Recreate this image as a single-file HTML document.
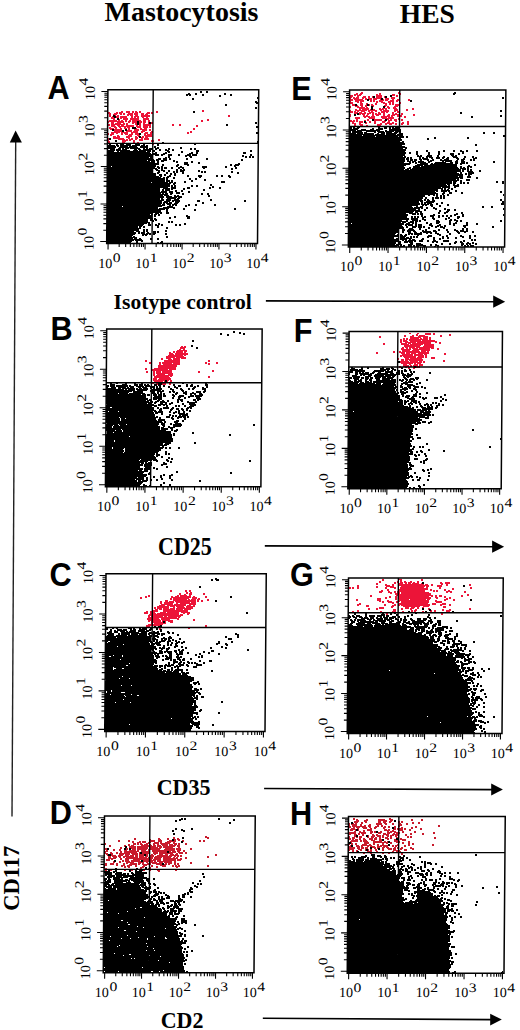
<!DOCTYPE html>
<html><head><meta charset="utf-8"><style>
html,body{margin:0;padding:0;background:#fff;}
svg{display:block;}
text{font-family:"Liberation Serif",serif;fill:#000;}
.lt{font-family:"Liberation Sans",sans-serif;font-weight:bold;font-size:33px;}
</style></head><body>
<svg width="520" height="1030" viewBox="0 0 520 1030">
<rect width="520" height="1030" fill="#fff"/>
<path d="M361 92.5h2m35 0h2m-44 1h2m2 0h3m16 0h2m17 0h3m-47 1h4m1 0h3m14 0h2m1 0h2m11 0h3m4 0h2m-52 1h4m1 0h2m1 0h4m15 0h6m10 0h3m1 0h2m-49 1h4m4 0h2m4 0h3m2 0h2m2 0h1m3 0h6m2 0h1m11 0h2m-48 1h2m1 0h2m1 0h3m3 0h4m2 0h2m2 0h1m3 0h6m2 0h1m6 0h4m-46 1h2m2 0h6m3 0h2m1 0h2m1 0h4m1 0h8m4 0h4m2 0h4m-46 1h4m1 0h9m2 0h2m2 0h3m1 0h4m3 0h1m2 0h1m1 0h4m3 0h2m3 0h2m9 0h2m-61 1h4m2 0h9m6 0h2m1 0h2m4 0h5m1 0h3m2 0h4m2 0h3m9 0h2m-61 1h2m4 0h4m1 0h4m6 0h2m1 0h2m1 0h2m1 0h4m5 0h6m2 0h2m-49 1h4m4 0h2m1 0h2m14 0h2m3 0h4m3 0h3m1 0h2m5 0h2m-52 1h4m7 0h3m3 0h2m7 0h2m6 0h4m2 0h2m1 0h2m5 0h2m-49 1h3m5 0h3m3 0h1m2 0h1m1 0h2m2 0h2m8 0h2m2 0h2m1 0h2m1 0h4m-47 1h3m2 0h1m2 0h3m2 0h2m2 0h1m1 0h3m10 0h3m8 0h4m-50 1h2m4 0h4m2 0h2m2 0h2m6 0h1m11 0h1m1 0h2m5 0h4m-49 1h2m6 0h8m1 0h2m19 0h3m3 0h3m-37 1h10m10 0h2m1 0h5m1 0h2m3 0h4m15 0h2m-59 1h2m2 0h2m1 0h7m1 0h1m2 0h2m4 0h5m1 0h2m7 0h4m8 0h2m4 0h2m-212 1h2m145 0h2m4 0h12m1 0h9m3 0h2m1 0h6m5 0h4m8 0h2m-287 1h2m3 0h4m2 0h2m1 0h2m2 0h2m15 0h2m44 0h2m145 0h4m1 0h2m1 0h2m2 0h4m3 0h2m1 0h2m2 0h2m4 0h8m5 0h2m1 0h2m-291 1h2m6 0h2m1 0h4m3 0h4m2 0h2m1 0h3m1 0h2m6 0h3m1 0h2m3 0h2m192 0h3m1 0h4m1 0h3m2 0h2m3 0h5m4 0h2m1 0h4m1 0h2m4 0h2m3 0h2m-291 1h3m3 0h4m1 0h3m1 0h2m3 0h5m1 0h4m3 0h3m2 0h4m1 0h2m201 0h3m2 0h7m1 0h4m1 0h2m1 0h2m1 0h3m2 0h2m7 0h2m1 0h2m4 0h2m-294 1h2m2 0h4m3 0h2m1 0h2m2 0h6m1 0h4m3 0h3m1 0h3m202 0h1m8 0h2m1 0h3m2 0h2m3 0h2m1 0h6m2 0h2m3 0h2m2 0h8m1 0h2m10 0h2m-306 1h2m4 0h1m1 0h2m8 0h2m1 0h3m2 0h3m3 0h9m78 0h2m120 0h1m12 0h2m1 0h2m4 0h2m2 0h3m4 0h2m2 0h3m1 0h4m2 0h5m11 0h2m-306 1h2m1 0h1m3 0h3m1 0h7m4 0h2m1 0h5m2 0h9m78 0h2m119 0h2m12 0h7m1 0h4m6 0h9m1 0h2m4 0h2m1 0h2m2 0h2m-299 1h1m3 0h3m2 0h3m1 0h7m4 0h2m1 0h2m1 0h2m3 0h2m2 0h2m201 0h1m5 0h5m4 0h2m2 0h7m6 0h6m1 0h6m10 0h2m-299 1h1m3 0h4m5 0h2m1 0h5m2 0h9m4 0h6m206 0h5m9 0h6m7 0h12m4 0h2m-287 1h2m4 0h1m3 0h5m2 0h9m4 0h6m58 0h2m147 0h2m9 0h2m5 0h8m5 0h2m1 0h2m2 0h3m1 0h2m1 0h2m-294 1h8m1 0h2m1 0h2m2 0h2m2 0h2m1 0h9m2 0h3m2 0h2m51 0h2m4 0h2m141 0h2m1 0h2m1 0h2m6 0h2m1 0h2m5 0h8m2 0h1m3 0h4m2 0h3m4 0h2m-296 1h17m1 0h2m1 0h3m1 0h5m2 0h3m1 0h3m2 0h2m51 0h2m147 0h5m1 0h2m1 0h4m6 0h2m3 0h2m6 0h4m2 0h2m5 0h2m10 0h2m-302 1h2m2 0h3m3 0h7m4 0h2m2 0h5m2 0h3m1 0h3m2 0h1m2 0h2m199 0h2m5 0h4m3 0h1m2 0h2m3 0h2m6 0h3m2 0h3m2 0h2m8 0h2m3 0h2m-298 1h3m1 0h6m2 0h2m1 0h2m4 0h2m1 0h2m2 0h2m2 0h2m3 0h1m2 0h2m196 0h1m2 0h4m3 0h2m4 0h2m7 0h2m4 0h2m3 0h9m1 0h2m4 0h3m3 0h2m-302 1h3m1 0h14m1 0h2m7 0h2m2 0h2m2 0h8m21 0h2m5 0h2m168 0h1m4 0h2m3 0h4m14 0h5m3 0h2m2 0h3m3 0h2m4 0h2m4 0h2m-302 1h3m1 0h4m2 0h3m1 0h3m2 0h8m2 0h2m1 0h2m2 0h8m21 0h2m5 0h2m15 0h2m156 0h2m4 0h3m3 0h2m9 0h4m-270 1h5m2 0h16m2 0h5m2 0h5m1 0h2m45 0h2m168 0h2m11 0h2m-272 1h2m3 0h3m2 0h2m3 0h2m1 0h3m7 0h4m2 0h5m1 0h2m-42 1h5m1 0h2m3 0h2m2 0h3m1 0h2m6 0h1m3 0h2m2 0h3m46 0h2m-88 1h1m2 0h2m2 0h8m6 0h2m4 0h5m1 0h7m2 0h2m42 0h2m-88 1h1m6 0h8m5 0h5m2 0h5m3 0h5m2 0h2m-37 1h8m4 0h6m1 0h5m3 0h4m6 0h2m37 0h2m-81 1h9m1 0h7m3 0h7m3 0h2m2 0h3m2 0h3m34 0h2m1 0h2m-85 1h2m2 0h3m2 0h2m3 0h2m1 0h4m3 0h2m2 0h4m5 0h4m2 0h2m35 0h2m-82 1h2m1 0h4m7 0h2m2 0h3m1 0h4m2 0h4m5 0h2m1 0h5m-42 1h2m5 0h2m9 0h4m5 0h3m4 0h8m-39 1h3m1 0h3m6 0h6m3 0h2m1 0h1m3 0h2m1 0h7m-39 1h7m6 0h4m5 0h3m3 0h3m1 0h3m-41 1h2m4 0h11m4 0h2m1 0h2m2 0h3m3 0h2m1 0h5m-42 1h2m9 0h7m1 0h2m1 0h4m2 0h2m2 0h4m1 0h5m9 0h2m-53 1h2m13 0h6m1 0h2m2 0h2m4 0h4m8 0h3m4 0h2m-53 1h3m12 0h4m7 0h2m16 0h3m-46 1h2m12 0h3m8 0h2m2 0h2m-17 1h2m5 0h2m6 0h2m13 0h2m-2 1h2m255 189h2m6 0h2m6 0h6m2 0h2m-19 1h2m7 0h6m2 0h2m14 0h2m-47 1h2m6 0h2m2 0h2m1 0h6m15 0h2m7 0h2m-72 1h2m23 0h2m4 0h4m4 0h10m12 0h2m-63 1h2m29 0h11m2 0h5m1 0h2m-28 1h2m1 0h2m2 0h9m1 0h2m1 0h5m1 0h2m-31 1h2m1 0h2m1 0h2m1 0h19m1 0h2m-31 1h2m1 0h4m2 0h12m1 0h13m-35 1h2m1 0h5m2 0h27m-37 1h2m3 0h11m1 0h14m4 0h2m2 0h2m-58 1h2m16 0h6m1 0h3m1 0h19m8 0h2m-58 1h2m16 0h8m1 0h13m1 0h10m-30 1h17m3 0h10m-253 1h2m1 0h2m218 0h16m3 0h11m-254 1h6m216 0h2m1 0h3m1 0h6m1 0h18m-254 1h5m216 0h3m2 0h2m1 0h2m1 0h6m1 0h11m1 0h3m3 0h2m-260 1h2m2 0h2m216 0h10m2 0h17m7 0h2m-262 1h10m215 0h8m2 0h7m2 0h9m-257 1h2m1 0h7m1 0h3m206 0h2m4 0h2m1 0h18m1 0h5m1 0h2m-260 1h2m2 0h2m1 0h7m1 0h2m190 0h2m15 0h2m4 0h6m1 0h23m-260 1h4m2 0h13m188 0h2m23 0h4m1 0h4m1 0h5m2 0h11m15 0h2m-277 1h5m1 0h13m214 0h11m1 0h9m1 0h3m17 0h2m-278 1h15m1 0h2m214 0h13m1 0h10m1 0h2m-261 1h18m216 0h2m1 0h13m2 0h6m1 0h2m-261 1h9m1 0h10m218 0h12m1 0h7m1 0h2m4 0h4m-274 1h2m3 0h5m2 0h7m1 0h5m211 0h2m6 0h4m1 0h12m9 0h4m-274 1h2m5 0h4m1 0h7m217 0h2m2 0h3m1 0h18m-278 1h2m17 0h16m28 0h2m191 0h3m1 0h3m1 0h14m20 0h2m-300 1h2m17 0h16m28 0h2m190 0h9m1 0h8m1 0h3m1 0h2m18 0h2m-296 1h2m8 0h2m1 0h18m25 0h2m9 0h2m182 0h22m1 0h2m-276 1h2m8 0h2m1 0h10m1 0h7m25 0h2m1 0h2m6 0h2m183 0h12m1 0h2m1 0h4m-262 1h2m2 0h17m28 0h2m193 0h4m2 0h2m3 0h4m1 0h4m-265 1h19m226 0h6m1 0h2m1 0h5m1 0h4m-265 1h19m222 0h2m2 0h6m1 0h2m1 0h1m2 0h4m-262 1h18m223 0h2m4 0h2m1 0h2m3 0h1m2 0h4m-275 1h2m7 0h22m232 0h2m3 0h2m-270 1h2m5 0h16m1 0h7m-24 1h20m40 0h2m-68 1h2m5 0h2m1 0h5m1 0h10m26 0h2m12 0h2m-68 1h2m5 0h2m1 0h5m1 0h10m26 0h2m-47 1h2m1 0h17m-20 1h2m2 0h8m3 0h5m-20 1h2m1 0h17m-19 1h15m1 0h2m36 0h2m-56 1h16m38 0h2m-57 1h4m2 0h12m-18 1h4m1 0h13m-18 1h12m2 0h2m1 0h2m-18 1h9m1 0h1m2 0h1m2 0h2m-21 1h7m1 0h4m2 0h3m1 0h2m-20 1h3m2 0h2m4 0h4m3 0h2m-14 1h1m4 0h4m3 0h2m211 195h2m14 0h4m19 0h2m-41 1h2m16 0h2m19 0h2m-44 1h2m16 0h2m1 0h2m2 0h2m4 0h2m5 0h2m-40 1h2m13 0h2m1 0h2m1 0h3m1 0h3m1 0h4m1 0h2m2 0h2m21 0h2m3 0h5m-74 1h2m16 0h2m2 0h5m2 0h2m1 0h3m1 0h7m2 0h1m18 0h3m2 0h5m-74 1h2m7 0h2m5 0h2m4 0h26m1 0h3m3 0h2m8 0h2m3 0h2m21 0h2m-114 1h2m26 0h5m2 0h2m4 0h31m2 0h2m4 0h5m4 0h2m21 0h2m-123 1h1m8 0h2m17 0h2m8 0h8m7 0h24m1 0h3m8 0h5m-94 1h3m1 0h2m3 0h2m17 0h2m7 0h2m3 0h6m4 0h24m2 0h2m11 0h2m29 0h2m-123 1h2m1 0h2m3 0h2m26 0h2m7 0h2m4 0h28m11 0h2m11 0h2m16 0h2m-85 1h2m10 0h29m2 0h2m12 0h2m6 0h2m-284 1h2m13 0h2m2 0h2m190 0h2m4 0h2m9 0h27m5 0h2m1 0h2m1 0h2m6 0h2m2 0h2m-280 1h2m13 0h2m2 0h2m188 0h4m5 0h2m4 0h2m1 0h28m8 0h2m1 0h2m8 0h6m12 0h2m-280 1h2m2 0h2m187 0h3m6 0h4m2 0h2m1 0h3m1 0h28m17 0h2m2 0h2m12 0h2m-287 1h2m5 0h2m1 0h3m11 0h2m185 0h2m3 0h5m1 0h30m-252 1h2m3 0h2m3 0h3m11 0h2m143 0h1m46 0h36m36 0h2m-321 1h2m27 0h2m1 0h7m2 0h2m157 0h1m21 0h2m24 0h2m1 0h34m2 0h2m2 0h3m19 0h2m4 0h2m-324 1h2m1 0h2m21 0h2m2 0h4m1 0h11m2 0h2m10 0h2m163 0h2m17 0h2m4 0h2m1 0h31m2 0h2m2 0h2m2 0h3m2 0h2m15 0h2m-323 1h2m3 0h2m24 0h20m1 0h5m8 0h2m178 0h2m2 0h2m4 0h2m1 0h33m4 0h3m6 0h2m3 0h2m-311 1h2m28 0h2m1 0h16m3 0h5m1 0h2m177 0h4m4 0h2m8 0h2m1 0h33m5 0h2m8 0h2m1 0h2m-281 1h2m1 0h14m1 0h2m1 0h5m1 0h3m7 0h2m147 0h2m19 0h4m14 0h2m2 0h10m1 0h16m1 0h3m14 0h4m5 0h2m-290 1h3m5 0h23m1 0h2m2 0h2m4 0h2m147 0h2m19 0h4m6 0h2m9 0h31m6 0h2m7 0h2m7 0h2m-295 1h2m3 0h3m1 0h5m1 0h21m1 0h2m2 0h2m176 0h2m1 0h2m3 0h5m4 0h4m1 0h28m6 0h7m-282 1h2m2 0h10m2 0h14m1 0h5m186 0h2m4 0h6m2 0h2m3 0h28m7 0h6m-282 1h2m2 0h9m3 0h2m2 0h16m163 0h2m31 0h2m5 0h29m4 0h4m6 0h4m-285 1h12m1 0h12m3 0h7m161 0h4m23 0h2m8 0h2m2 0h32m2 0h4m4 0h6m3 0h2m-292 1h6m2 0h19m1 0h4m2 0h2m162 0h2m7 0h3m15 0h2m6 0h4m2 0h2m1 0h29m10 0h2m7 0h2m-294 1h12m1 0h5m1 0h8m2 0h9m171 0h3m22 0h3m9 0h17m3 0h6m14 0h3m-292 1h2m1 0h12m4 0h2m2 0h8m1 0h7m186 0h5m7 0h2m12 0h4m2 0h4m2 0h2m3 0h2m19 0h3m-292 1h2m1 0h5m1 0h6m1 0h5m1 0h17m175 0h2m6 0h2m1 0h5m17 0h2m2 0h4m1 0h4m3 0h2m9 0h2m39 0h2m-316 1h3m1 0h3m1 0h12m1 0h7m1 0h7m177 0h2m6 0h2m15 0h3m5 0h2m7 0h2m3 0h2m11 0h1m13 0h2m5 0h2m18 0h2m-319 1h6m5 0h25m169 0h2m34 0h3m15 0h2m1 0h3m14 0h1m2 0h2m6 0h2m2 0h5m-305 1h2m2 0h8m5 0h25m164 0h2m3 0h2m21 0h2m10 0h4m6 0h2m7 0h2m1 0h2m6 0h2m6 0h2m2 0h2m10 0h4m-306 1h4m2 0h5m5 0h6m1 0h12m2 0h9m162 0h2m11 0h2m13 0h2m10 0h2m8 0h2m18 0h2m6 0h2m15 0h2m-305 1h4m2 0h6m1 0h22m4 0h2m2 0h3m196 0h2m53 0h2m-294 1h30m1 0h3m4 0h2m197 0h2m53 0h2m-295 1h35m-35 1h2m1 0h12m1 0h3m1 0h13m-33 1h29m1 0h2m-33 1h12m2 0h18m-32 1h13m1 0h9m7 0h2m14 0h2m-47 1h13m1 0h11m20 0h2m-47 1h2m1 0h10m1 0h1m2 0h1m2 0h5m-22 1h12m2 0h1m4 0h3m-22 1h2m1 0h12m-18 1h15m-17 1h14m45 0h2m-61 1h4m55 0h2m-59 1h2m38 0h2m-31 1h2m27 0h2m-31 1h1" stroke="#ec1438" stroke-width="1" fill="none" shape-rendering="crispEdges"/>
<path d="M353 818.5h2m34 0h2m-38 1h2m1 0h2m8 0h2m10 0h7m4 0h4m18 0h2m8 0h2m-67 1h3m5 0h4m10 0h9m3 0h3m18 0h2m8 0h2m-75 1h1m5 0h5m5 0h3m11 0h3m2 0h4m2 0h3m6 0h2m1 0h2m-55 1h1m5 0h4m3 0h2m2 0h2m11 0h3m2 0h3m3 0h2m7 0h2m1 0h2m9 0h2m4 0h2m-72 1h2m3 0h1m1 0h2m4 0h2m13 0h6m2 0h3m5 0h2m5 0h2m5 0h2m4 0h2m4 0h2m-72 1h2m1 0h6m3 0h2m7 0h2m5 0h6m3 0h2m5 0h2m5 0h3m4 0h2m-60 1h2m2 0h5m3 0h2m2 0h2m2 0h3m6 0h2m2 0h2m15 0h4m36 0h2m-92 1h3m1 0h14m2 0h3m4 0h4m2 0h2m1 0h2m2 0h2m4 0h2m2 0h2m15 0h2m21 0h2m-91 1h2m2 0h2m1 0h4m2 0h5m2 0h2m3 0h3m6 0h3m2 0h2m4 0h2m5 0h2m8 0h2m2 0h2m-66 1h4m2 0h2m4 0h4m3 0h2m2 0h2m7 0h2m9 0h2m1 0h6m1 0h2m5 0h2m7 0h2m-72 1h6m2 0h1m8 0h5m12 0h3m1 0h2m3 0h3m1 0h6m1 0h2m3 0h2m9 0h2m-72 1h3m2 0h1m2 0h1m4 0h2m2 0h5m12 0h6m2 0h2m5 0h4m6 0h2m-57 1h2m3 0h2m2 0h2m5 0h3m1 0h2m4 0h2m5 0h2m1 0h6m6 0h2m10 0h2m-67 1h7m3 0h7m4 0h3m1 0h2m2 0h4m5 0h5m2 0h6m2 0h2m10 0h2m17 0h2m-86 1h7m2 0h2m1 0h5m4 0h2m6 0h3m2 0h3m1 0h3m3 0h2m1 0h4m10 0h2m10 0h2m9 0h2m-86 1h2m3 0h3m1 0h2m2 0h2m8 0h2m2 0h2m5 0h6m3 0h6m7 0h2m3 0h2m10 0h2m-70 1h2m6 0h2m4 0h1m3 0h3m1 0h5m1 0h2m2 0h3m1 0h4m1 0h3m7 0h2m-202 1h2m141 0h2m4 0h2m3 0h3m6 0h1m2 0h4m2 0h4m1 0h2m3 0h2m1 0h2m3 0h2m10 0h2m1 0h2m-239 1h2m30 0h4m139 0h2m2 0h3m1 0h2m1 0h3m5 0h2m2 0h3m1 0h2m2 0h2m1 0h2m1 0h3m2 0h2m4 0h2m9 0h2m1 0h2m22 0h2m-302 1h2m22 0h2m7 0h2m4 0h2m2 0h2m28 0h2m139 0h3m1 0h3m4 0h2m2 0h2m4 0h4m1 0h3m2 0h2m4 0h4m1 0h2m8 0h2m32 0h2m-302 1h2m13 0h2m7 0h3m6 0h2m5 0h2m1 0h3m168 0h3m1 0h2m1 0h3m1 0h2m2 0h3m3 0h4m1 0h3m2 0h3m5 0h2m5 0h2m4 0h6m-288 1h2m8 0h2m19 0h6m3 0h4m7 0h3m2 0h2m2 0h2m2 0h2m15 0h2m2 0h2m146 0h7m2 0h2m1 0h4m4 0h4m4 0h3m12 0h4m4 0h4m-288 1h2m8 0h2m2 0h2m5 0h2m1 0h4m3 0h6m3 0h4m5 0h9m7 0h1m15 0h2m2 0h2m145 0h8m2 0h2m1 0h5m5 0h9m2 0h2m1 0h1m6 0h6m8 0h2m-278 1h2m3 0h4m1 0h4m2 0h3m3 0h5m1 0h2m3 0h6m2 0h2m173 0h1m2 0h1m12 0h5m4 0h15m2 0h2m4 0h4m2 0h2m4 0h2m-306 1h2m27 0h3m1 0h2m1 0h2m4 0h4m3 0h6m1 0h10m3 0h4m1 0h2m5 0h2m161 0h1m2 0h2m2 0h2m7 0h5m4 0h2m7 0h2m2 0h2m2 0h2m10 0h2m4 0h2m2 0h2m-310 1h2m22 0h2m3 0h3m1 0h2m1 0h3m1 0h4m1 0h2m2 0h2m2 0h2m2 0h7m1 0h4m1 0h3m1 0h2m5 0h2m161 0h2m1 0h2m2 0h2m5 0h5m2 0h2m2 0h2m2 0h2m3 0h2m13 0h2m9 0h2m2 0h2m18 0h2m-325 1h2m13 0h2m2 0h2m1 0h3m7 0h11m1 0h3m1 0h4m1 0h6m1 0h7m1 0h3m168 0h1m1 0h1m5 0h3m2 0h11m5 0h2m1 0h8m4 0h2m1 0h4m5 0h2m2 0h2m22 0h2m-325 1h2m13 0h1m4 0h7m1 0h19m1 0h5m1 0h12m2 0h3m168 0h3m5 0h4m1 0h2m4 0h2m1 0h5m2 0h5m1 0h5m4 0h2m1 0h2m7 0h2m-286 1h2m7 0h7m1 0h11m1 0h9m1 0h3m1 0h10m5 0h2m168 0h7m2 0h3m1 0h3m1 0h3m4 0h4m1 0h3m2 0h3m1 0h3m5 0h2m1 0h2m2 0h2m7 0h2m-307 1h2m13 0h2m4 0h2m3 0h5m1 0h11m1 0h12m4 0h10m1 0h5m9 0h2m156 0h7m2 0h3m1 0h3m1 0h3m6 0h2m1 0h1m4 0h2m3 0h5m1 0h3m1 0h2m1 0h3m7 0h4m-309 1h2m6 0h2m4 0h2m5 0h2m4 0h4m1 0h10m1 0h12m4 0h11m1 0h5m9 0h2m156 0h6m4 0h4m3 0h1m2 0h1m1 0h2m3 0h2m5 0h2m4 0h4m1 0h3m4 0h2m2 0h3m5 0h2m-308 1h2m5 0h2m4 0h2m3 0h3m2 0h7m1 0h2m2 0h5m2 0h2m2 0h23m2 0h4m2 0h2m163 0h2m2 0h2m2 0h2m2 0h2m3 0h1m2 0h1m1 0h2m3 0h2m5 0h2m9 0h7m4 0h3m-303 1h4m12 0h2m2 0h15m2 0h9m2 0h15m2 0h2m1 0h4m1 0h3m3 0h2m167 0h2m2 0h1m10 0h5m4 0h2m14 0h2m2 0h5m-297 1h2m4 0h2m4 0h2m2 0h2m2 0h13m2 0h1m2 0h7m4 0h5m1 0h8m2 0h7m2 0h5m2 0h2m165 0h2m9 0h2m2 0h5m4 0h2m4 0h2m4 0h2m2 0h2m5 0h2m-297 1h4m2 0h3m3 0h2m1 0h11m1 0h7m1 0h1m2 0h7m4 0h5m1 0h14m3 0h2m1 0h4m2 0h2m176 0h2m5 0h2m10 0h2m4 0h2m11 0h2m-297 1h2m3 0h2m6 0h5m1 0h5m2 0h6m1 0h5m2 0h2m3 0h2m1 0h2m3 0h4m2 0h3m2 0h4m1 0h3m37 0h2m184 0h2m-296 1h1m3 0h5m2 0h5m2 0h4m1 0h4m1 0h3m1 0h5m2 0h2m2 0h4m3 0h11m1 0h10m1 0h2m33 0h2m-109 1h3m1 0h5m1 0h3m2 0h11m1 0h3m1 0h5m1 0h3m2 0h4m1 0h17m2 0h2m1 0h2m1 0h2m25 0h2m-101 1h3m2 0h4m2 0h2m2 0h2m1 0h12m1 0h8m1 0h5m1 0h8m1 0h8m2 0h2m1 0h2m7 0h2m20 0h2m-101 1h8m4 0h2m3 0h28m1 0h7m2 0h15m2 0h2m3 0h2m-81 1h4m1 0h2m7 0h2m3 0h4m4 0h19m1 0h8m2 0h13m1 0h5m-76 1h4m12 0h2m1 0h4m2 0h9m3 0h13m1 0h4m2 0h13m1 0h4m-68 1h1m5 0h2m1 0h2m1 0h5m1 0h10m2 0h10m1 0h2m1 0h15m2 0h2m-63 1h2m4 0h2m5 0h8m4 0h6m2 0h2m2 0h7m2 0h4m1 0h8m2 0h2m14 0h2m-87 1h2m3 0h4m2 0h2m5 0h2m1 0h2m2 0h7m1 0h3m1 0h2m3 0h4m1 0h10m3 0h2m1 0h4m2 0h2m1 0h2m11 0h2m-87 1h2m3 0h4m2 0h2m5 0h2m4 0h8m1 0h2m2 0h9m5 0h6m2 0h3m1 0h2m4 0h2m1 0h2m-75 1h3m9 0h2m3 0h4m2 0h5m3 0h2m6 0h4m4 0h2m7 0h6m6 0h2m1 0h2m1 0h2m27 0h2m-105 1h1m16 0h2m1 0h2m1 0h3m5 0h2m5 0h3m6 0h2m3 0h2m4 0h4m6 0h2m1 0h5m27 0h2m-105 1h1m19 0h2m2 0h2m10 0h4m5 0h2m5 0h2m18 0h2m-73 1h2m33 0h2m6 0h3m-46 1h2m3 0h2m12 0h2m5 0h2m10 0h2m3 0h3m6 0h2m16 0h2m-72 1h2m3 0h2m12 0h2m5 0h2m10 0h2m4 0h2m6 0h3m15 0h2m-19 1h2" stroke="#c81a2c" stroke-width="1" fill="none" shape-rendering="crispEdges"/>
<path d="M200 91.5h2m4 0h2m-8 1h2m4 0h2m246 0h2m-268 1h2m5 0h2m27 0h2m227 0h3m-270 1h5m4 0h2m5 0h2m20 0h2m4 0h2m221 0h2m-269 1h2m1 0h2m11 0h2m15 0h2m9 0h2m158 0h2m-173 1h2m152 0h2m10 0h2m3 0h2m-135 1h1m115 0h2m10 0h2m115 0h2m-312 1h2m63 0h1m123 0h2m119 0h2m-312 1h2m173 0h2m12 0h2m-16 1h2m41 0h2m-157 1h2m153 0h2m-157 1h3m-2 1h2m-33 1h2m128 0h2m10 0h2m-144 1h2m128 0h2m10 0h2m2 1h2m10 0h2m-130 1h2m114 0h2m10 0h2m-130 1h2m114 0h2m-2 1h2m127 1h2m-309 1h2m305 0h2m-309 1h2m265 0h2m-105 1h2m101 0h2m-113 1h1m4 0h2m1 0h2m-246 1h2m234 0h1m4 0h2m144 0h2m-389 1h3m355 0h2m27 0h2m-388 1h2m355 0h2m-356 1h2m-2 1h2m253 0h2m11 0h2m-15 1h2m11 0h2m-250 1h2m225 0h2m-229 1h2m10 0h2m104 0h2m107 0h2m-229 1h2m10 0h2m104 0h2m-120 1h2m87 0h2m-2 1h2m28 1h2m91 0h2m7 0h2m-228 1h4m120 0h2m91 0h3m1 0h2m2 0h3m18 0h2m4 0h3m2 0h2m1 0h2m1 0h4m-267 1h4m214 0h2m1 0h6m13 0h2m4 0h5m1 0h3m2 0h2m1 0h7m-287 1h2m11 0h2m223 0h8m3 0h5m4 0h4m2 0h7m6 0h12m-289 1h2m8 0h2m1 0h2m222 0h7m1 0h23m5 0h2m2 0h12m-279 1h2m225 0h2m1 0h10m4 0h10m1 0h7m1 0h9m1 0h6m-145 1h2m91 0h2m1 0h11m1 0h3m7 0h2m2 0h7m1 0h6m2 0h4m1 0h2m82 0h2m8 0h2m-356 1h2m115 0h2m91 0h7m1 0h6m1 0h10m3 0h2m2 0h4m1 0h11m3 0h3m80 0h2m8 0h2m-356 1h2m208 0h25m1 0h10m1 0h10m1 0h6m-54 1h13m1 0h40m100 0h2m-366 1h2m208 0h26m1 0h22m1 0h5m2 0h2m95 0h2m-366 1h2m208 0h55m2 0h2m26 0h2m31 0h2m-360 1h2m238 0h52m26 0h2m5 0h2m31 0h2m-360 1h2m238 0h53m25 0h2m-314 1h2m232 0h53m-287 1h2m140 0h1m91 0h51m2 0h2m-242 1h2m93 0h1m91 0h55m-295 1h2m24 0h2m25 0h2m30 0h2m153 0h56m-296 1h2m5 0h2m2 0h4m2 0h5m4 0h5m3 0h2m12 0h2m35 0h2m153 0h56m70 0h2m-369 1h7m1 0h3m1 0h11m1 0h8m1 0h4m1 0h2m9 0h2m190 0h53m73 0h2m-370 1h9m1 0h2m1 0h8m1 0h8m3 0h8m6 0h2m193 0h56m-298 1h9m3 0h19m2 0h8m6 0h2m1 0h2m21 0h2m167 0h58m-299 1h7m3 0h3m1 0h2m1 0h4m1 0h10m3 0h2m1 0h2m1 0h4m2 0h4m9 0h2m10 0h2m8 0h2m2 0h2m153 0h54m2 0h2m-297 1h5m1 0h5m1 0h5m7 0h3m1 0h3m2 0h10m2 0h2m2 0h2m4 0h2m1 0h2m2 0h2m16 0h2m2 0h2m153 0h57m-299 1h8m1 0h14m3 0h5m1 0h12m1 0h3m4 0h2m4 0h4m3 0h2m22 0h3m51 0h2m97 0h57m20 0h2m15 0h2m8 0h2m5 0h2m4 0h2m8 0h2m-371 1h7m3 0h2m1 0h26m1 0h4m1 0h3m12 0h3m11 0h2m13 0h3m51 0h2m97 0h56m11 0h2m8 0h2m10 0h2m3 0h2m8 0h2m5 0h4m2 0h2m8 0h2m-371 1h43m5 0h2m8 0h2m1 0h2m11 0h2m8 0h2m3 0h2m45 0h3m103 0h57m3 0h2m5 0h2m10 0h2m8 0h2m22 0h2m-357 1h44m2 0h4m6 0h4m22 0h4m3 0h2m45 0h3m103 0h57m3 0h2m5 0h2m10 0h2m8 0h2m10 0h4m4 0h2m2 0h2m-357 1h52m2 0h4m3 0h4m6 0h2m7 0h4m1 0h5m53 0h2m97 0h56m11 0h2m10 0h2m8 0h2m10 0h4m4 0h2m-353 1h46m2 0h4m2 0h2m5 0h4m6 0h2m5 0h6m1 0h5m45 0h2m6 0h2m97 0h56m12 0h2m1 0h2m5 0h5m5 0h2m12 0h3m1 0h2m-350 1h45m16 0h2m15 0h2m2 0h3m50 0h2m1 0h2m2 0h2m1 0h2m95 0h54m1 0h2m11 0h5m4 0h6m5 0h2m4 0h2m7 0h5m7 0h2m6 0h2m-367 1h42m1 0h2m13 0h2m1 0h2m20 0h2m53 0h2m2 0h2m1 0h2m95 0h57m1 0h2m1 0h2m7 0h2m1 0h2m2 0h2m1 0h4m3 0h4m2 0h3m2 0h2m4 0h5m6 0h2m6 0h2m1 0h2m-370 1h46m5 0h3m2 0h4m2 0h2m15 0h2m18 0h2m141 0h56m1 0h3m1 0h2m7 0h2m1 0h6m3 0h2m3 0h4m2 0h2m2 0h3m7 0h3m4 0h2m8 0h4m-370 1h47m2 0h5m2 0h4m2 0h2m15 0h2m18 0h2m33 0h2m106 0h56m1 0h3m1 0h3m1 0h3m2 0h3m1 0h6m3 0h2m6 0h2m2 0h5m8 0h2m2 0h4m5 0h2m1 0h2m-368 1h40m1 0h7m1 0h3m2 0h6m6 0h2m66 0h2m106 0h56m2 0h2m1 0h3m1 0h3m3 0h2m5 0h2m1 0h4m6 0h12m4 0h2m3 0h3m6 0h2m1 0h2m-368 1h43m1 0h4m2 0h2m2 0h3m9 0h2m1 0h2m13 0h2m156 0h56m2 0h4m1 0h4m2 0h6m4 0h4m10 0h2m1 0h7m3 0h3m3 0h4m28 0h2m-388 1h48m2 0h2m17 0h2m6 0h4m3 0h2m5 0h2m149 0h55m5 0h2m1 0h2m1 0h2m1 0h8m2 0h2m5 0h11m4 0h3m2 0h3m3 0h4m1 0h2m25 0h2m-388 1h52m25 0h4m10 0h2m38 0h2m109 0h62m4 0h2m3 0h8m3 0h2m1 0h19m2 0h3m2 0h5m1 0h2m-361 1h52m3 0h2m13 0h2m5 0h5m41 0h2m3 0h5m109 0h61m7 0h11m2 0h27m3 0h2m12 0h2m-369 1h49m6 0h2m12 0h3m8 0h2m41 0h2m2 0h5m110 0h57m9 0h8m1 0h33m11 0h2m4 0h2m-369 1h4m1 0h44m1 0h2m2 0h2m13 0h2m2 0h2m20 0h5m18 0h2m7 0h2m113 0h55m9 0h7m1 0h36m3 0h2m5 0h5m-365 1h48m2 0h3m1 0h2m1 0h3m4 0h2m5 0h6m18 0h5m18 0h2m8 0h2m112 0h56m4 0h2m2 0h45m2 0h2m1 0h2m2 0h2m1 0h2m-365 1h50m1 0h2m1 0h2m1 0h3m4 0h2m5 0h2m2 0h2m19 0h2m26 0h2m2 0h2m112 0h56m2 0h4m1 0h47m1 0h6m1 0h2m-362 1h46m2 0h3m3 0h2m13 0h2m2 0h2m1 0h2m46 0h2m116 0h55m1 0h4m1 0h51m1 0h4m1 0h2m1 0h2m-365 1h46m3 0h4m1 0h4m3 0h2m6 0h2m2 0h5m13 0h2m149 0h112m1 0h2m3 0h2m1 0h2m7 0h2m-374 1h46m5 0h2m3 0h2m3 0h2m3 0h2m1 0h2m2 0h4m14 0h2m1 0h2m1 0h2m25 0h2m116 0h112m1 0h2m3 0h6m6 0h2m-374 1h46m4 0h3m6 0h2m5 0h2m1 0h2m4 0h2m17 0h2m1 0h2m25 0h2m4 0h2m110 0h108m3 0h2m6 0h6m-367 1h49m1 0h2m7 0h2m2 0h2m2 0h2m6 0h2m53 0h2m110 0h110m1 0h2m3 0h2m1 0h6m-367 1h49m3 0h3m2 0h2m4 0h2m2 0h2m173 0h114m2 0h2m1 0h4m-365 1h49m3 0h3m2 0h2m3 0h2m3 0h2m11 0h2m9 0h4m14 0h2m3 0h2m5 0h2m119 0h114m5 0h2m-363 1h52m1 0h2m5 0h4m16 0h2m9 0h4m14 0h2m3 0h2m5 0h3m118 0h109m1 0h4m4 0h4m-364 1h54m2 0h2m1 0h3m4 0h2m24 0h2m28 0h2m118 0h114m4 0h4m5 0h2m-371 1h58m1 0h2m5 0h2m14 0h2m4 0h2m152 0h110m1 0h3m13 0h2m-371 1h58m1 0h2m21 0h2m4 0h2m7 0h2m143 0h107m1 0h2m7 0h4m-363 1h58m1 0h4m1 0h2m18 0h2m11 0h2m143 0h110m1 0h2m4 0h4m-363 1h58m1 0h4m1 0h2m11 0h2m5 0h2m28 0h4m124 0h103m1 0h4m3 0h2m34 0h2m4 0h2m-397 1h44m1 0h16m1 0h4m1 0h2m8 0h2m35 0h4m124 0h103m1 0h3m4 0h2m1 0h2m2 0h2m27 0h2m4 0h2m-397 1h64m2 0h3m173 0h103m1 0h3m4 0h2m1 0h2m2 0h2m33 0h2m-397 1h63m3 0h2m35 0h2m137 0h97m1 0h3m3 0h2m2 0h2m-352 1h63m1 0h2m1 0h2m15 0h2m3 0h2m12 0h2m137 0h98m1 0h2m3 0h6m-352 1h63m1 0h2m1 0h2m15 0h2m3 0h2m14 0h2m135 0h101m4 0h5m-352 1h61m3 0h5m11 0h3m19 0h2m1 0h2m5 0h2m128 0h92m1 0h8m4 0h2m-349 1h53m3 0h7m1 0h5m7 0h2m2 0h3m19 0h2m8 0h2m128 0h94m1 0h2m2 0h2m1 0h2m-346 1h53m2 0h2m1 0h5m1 0h2m10 0h2m18 0h2m144 0h89m3 0h2m1 0h2m1 0h2m2 0h2m-346 1h53m2 0h2m1 0h5m5 0h2m4 0h2m20 0h2m143 0h90m3 0h9m5 0h2m-350 1h53m1 0h6m2 0h4m2 0h2m4 0h2m5 0h2m158 0h87m1 0h2m3 0h6m1 0h2m5 0h2m43 0h2m-395 1h60m2 0h4m3 0h4m8 0h2m158 0h88m7 0h2m4 0h3m9 0h2m37 0h2m-395 1h54m1 0h2m1 0h3m2 0h3m3 0h4m2 0h2m17 0h2m4 0h2m139 0h90m4 0h3m4 0h3m9 0h2m-356 1h61m2 0h2m10 0h2m17 0h2m4 0h2m139 0h87m1 0h2m4 0h2m3 0h2m54 0h1m-397 1h56m1 0h5m5 0h2m1 0h2m29 0h2m138 0h77m3 0h2m3 0h2m1 0h2m2 0h2m1 0h2m2 0h2m54 0h1m-397 1h57m2 0h6m2 0h8m26 0h2m138 0h77m11 0h2m2 0h2m1 0h2m-338 1h57m2 0h11m1 0h4m166 0h75m2 0h2m5 0h2m1 0h4m1 0h2m1 0h2m-338 1h53m1 0h2m4 0h9m1 0h3m168 0h75m2 0h2m5 0h2m1 0h4m1 0h2m1 0h2m-338 1h53m1 0h3m2 0h5m3 0h5m31 0h2m136 0h74m2 0h2m1 0h2m3 0h2m66 0h2m-395 1h57m2 0h5m1 0h8m17 0h3m10 0h2m32 0h2m102 0h75m1 0h2m1 0h3m2 0h3m65 0h2m-395 1h55m2 0h6m2 0h2m1 0h5m17 0h3m44 0h2m102 0h71m1 0h3m3 0h9m67 0h2m-397 1h55m1 0h5m1 0h3m3 0h4m23 0h2m144 0h71m2 0h2m1 0h10m7 0h2m59 0h2m-397 1h55m1 0h2m1 0h6m2 0h4m24 0h2m144 0h72m1 0h2m1 0h2m1 0h5m4 0h2m3 0h2m58 0h3m-397 1h54m1 0h3m2 0h4m1 0h5m11 0h2m5 0h2m17 0h2m132 0h72m1 0h8m1 0h3m3 0h2m9 0h2m52 0h3m-397 1h58m4 0h2m1 0h2m1 0h2m8 0h2m1 0h2m5 0h2m17 0h2m132 0h70m4 0h2m1 0h2m3 0h3m6 0h2m6 0h2m-342 1h15m1 0h39m5 0h6m12 0h2m161 0h64m4 0h2m2 0h3m8 0h2m6 0h2m41 0h2m7 0h2m-386 1h51m5 0h12m173 0h65m1 0h9m3 0h2m5 0h2m47 0h2m7 0h2m-386 1h51m1 0h10m4 0h2m8 0h2m49 0h2m112 0h72m1 0h2m3 0h2m5 0h4m7 0h2m57 0h1m-397 1h58m1 0h2m15 0h2m9 0h2m38 0h2m112 0h68m2 0h2m4 0h2m9 0h2m7 0h2m1 0h3m4 0h2m47 0h1m-397 1h54m5 0h2m26 0h2m152 0h72m4 0h2m13 0h2m6 0h3m4 0h2m-349 1h54m5 0h2m180 0h66m1 0h7m17 0h2m5 0h3m-342 1h55m4 0h3m179 0h65m2 0h3m2 0h2m16 0h2m4 0h4m13 0h2m-356 1h46m2 0h4m1 0h2m4 0h3m179 0h58m3 0h7m1 0h2m1 0h3m15 0h2m4 0h2m10 0h2m3 0h2m-356 1h43m1 0h2m1 0h3m1 0h2m188 0h60m4 0h4m1 0h2m1 0h3m10 0h2m19 0h4m4 0h2m39 0h1m-397 1h45m2 0h2m2 0h2m26 0h2m160 0h60m13 0h2m7 0h5m3 0h2m2 0h2m2 0h2m2 0h2m2 0h2m6 0h2m39 0h1m-397 1h45m2 0h2m18 0h2m10 0h4m158 0h59m4 0h2m1 0h2m1 0h2m2 0h2m1 0h2m4 0h4m4 0h2m2 0h2m2 0h2m2 0h2m5 0h3m2 0h2m-357 1h45m17 0h2m3 0h2m11 0h3m158 0h59m4 0h2m1 0h2m1 0h2m3 0h4m6 0h2m4 0h2m8 0h2m7 0h3m-353 1h46m1 0h2m13 0h2m16 0h3m158 0h61m2 0h7m4 0h2m8 0h3m10 0h2m1 0h2m7 0h2m-352 1h41m2 0h3m1 0h3m191 0h61m2 0h7m4 0h4m7 0h2m10 0h2m3 0h2m2 0h2m-349 1h41m2 0h4m1 0h2m191 0h54m4 0h2m4 0h6m1 0h2m3 0h2m10 0h3m10 0h3m2 0h4m2 0h2m38 0h2m-395 1h41m4 0h2m14 0h2m1 0h2m175 0h60m2 0h4m1 0h3m1 0h2m15 0h4m9 0h2m5 0h2m2 0h2m38 0h2m-395 1h43m18 0h2m1 0h2m175 0h53m1 0h4m2 0h6m1 0h2m9 0h2m8 0h4m9 0h2m4 0h2m9 0h2m-361 1h40m1 0h2m8 0h2m24 0h2m162 0h3m1 0h46m1 0h5m2 0h4m2 0h2m1 0h2m9 0h2m2 0h2m4 0h3m10 0h2m2 0h4m9 0h2m8 0h2m-371 1h37m4 0h3m4 0h2m1 0h2m1 0h2m12 0h2m2 0h2m3 0h2m162 0h56m1 0h8m2 0h2m1 0h4m7 0h3m7 0h2m8 0h2m2 0h2m11 0h2m8 0h2m-371 1h36m5 0h3m4 0h4m2 0h2m12 0h2m2 0h2m167 0h54m3 0h2m1 0h5m2 0h2m1 0h4m7 0h4m4 0h4m3 0h2m7 0h2m8 0h5m-361 1h31m1 0h3m1 0h2m12 0h2m189 0h55m3 0h2m4 0h5m1 0h4m1 0h2m6 0h2m2 0h4m1 0h3m1 0h2m17 0h3m26 0h2m-388 1h32m1 0h2m2 0h2m12 0h2m7 0h2m180 0h56m2 0h2m4 0h4m2 0h4m1 0h2m3 0h2m5 0h2m3 0h5m19 0h2m26 0h2m-388 1h35m25 0h2m180 0h56m5 0h4m6 0h2m7 0h2m13 0h2m17 0h2m2 0h2m-362 1h33m4 0h2m1 0h2m200 0h51m3 0h3m3 0h6m5 0h2m4 0h2m11 0h2m6 0h2m6 0h2m6 0h2m2 0h2m-362 1h33m4 0h2m1 0h2m17 0h2m181 0h50m4 0h3m2 0h8m7 0h2m1 0h2m6 0h3m2 0h2m6 0h2m6 0h4m2 0h4m2 0h2m-362 1h28m2 0h4m3 0h2m1 0h2m5 0h3m1 0h2m6 0h2m181 0h51m3 0h2m3 0h4m2 0h3m6 0h9m2 0h4m10 0h2m7 0h3m1 0h8m4 0h2m-368 1h30m2 0h2m1 0h4m2 0h2m4 0h3m1 0h2m189 0h51m3 0h2m4 0h3m3 0h3m3 0h2m1 0h9m3 0h2m10 0h2m8 0h3m4 0h2m6 0h2m-368 1h30m2 0h2m1 0h4m1 0h5m2 0h3m9 0h2m181 0h48m12 0h5m1 0h8m4 0h2m2 0h2m3 0h4m10 0h2m7 0h2m-354 1h29m7 0h6m1 0h2m2 0h2m10 0h2m181 0h47m2 0h2m1 0h2m3 0h2m1 0h2m1 0h2m1 0h8m15 0h4m8 0h2m-345 1h27m9 0h2m1 0h2m201 0h51m1 0h3m1 0h3m10 0h2m9 0h4m7 0h2m5 0h2m12 0h2m7 0h2m3 0h2m-370 1h26m1 0h2m31 0h2m180 0h50m2 0h6m4 0h2m1 0h2m1 0h2m9 0h5m10 0h2m2 0h2m12 0h4m5 0h2m3 0h2m-370 1h31m29 0h2m180 0h46m6 0h5m1 0h3m1 0h2m1 0h2m1 0h2m9 0h2m4 0h2m7 0h2m3 0h2m6 0h2m5 0h2m5 0h2m-365 1h27m1 0h3m2 0h2m9 0h2m5 0h2m189 0h46m2 0h3m1 0h12m10 0h2m9 0h2m4 0h2m1 0h2m3 0h2m6 0h2m12 0h2m-365 1h36m8 0h2m5 0h2m189 0h51m1 0h7m2 0h2m1 0h3m6 0h3m9 0h2m4 0h2m30 0h2m1 0h2m-370 1h28m1 0h8m205 0h50m4 0h2m1 0h2m1 0h8m3 0h4m4 0h2m4 0h3m7 0h6m14 0h2m6 0h2m1 0h2m-370 1h26m4 0h2m3 0h2m18 0h2m185 0h50m1 0h2m3 0h9m1 0h2m3 0h4m4 0h2m3 0h6m5 0h6m6 0h2m3 0h2m1 0h2m-359 1h25m5 0h2m19 0h2m1 0h3m185 0h48m3 0h2m3 0h4m1 0h4m19 0h2m2 0h2m16 0h3m3 0h3m4 0h2m3 0h2m-126 1h48m3 0h2m9 0h3m3 0h5m20 0h2m6 0h2m3 0h2m5 0h3m2 0h5m1 0h2m1 0h2m-129 1h47m1 0h2m1 0h3m6 0h5m3 0h7m7 0h2m3 0h2m4 0h2m6 0h2m10 0h3m2 0h2m1 0h2m4 0h2m-129 1h50m2 0h2m1 0h2m3 0h4m1 0h2m1 0h10m4 0h2m3 0h4m22 0h2m1 0h2m1 0h2m1 0h4m-126 1h49m3 0h5m3 0h4m1 0h2m1 0h3m4 0h3m8 0h2m1 0h2m11 0h2m12 0h5m1 0h4m-241 85h2m-2 1h2m4 0h2m-21 1h2m17 0h2m2 0h2m-25 1h2m5 0h2m14 0h2m-18 1h2m-37 5h2m-2 1h2m-3 4h2m-2 1h2m3 1h2m-2 1h2m200 13h2m-2 1h2m14 4h2m-65 1h2m8 0h2m4 0h2m13 0h2m7 0h2m8 0h2m11 0h2m-65 1h4m6 0h2m4 0h2m11 0h4m2 0h4m1 0h3m7 0h2m-53 1h8m1 0h4m17 0h10m2 0h4m8 0h2m3 0h2m-63 1h1m1 0h15m9 0h12m1 0h2m2 0h2m1 0h2m2 0h2m1 0h2m1 0h3m2 0h2m-63 1h5m2 0h10m8 0h11m1 0h8m5 0h2m1 0h2m1 0h3m3 0h2m1 0h2m-66 1h4m2 0h3m1 0h2m1 0h2m1 0h4m3 0h3m3 0h3m4 0h8m3 0h4m1 0h2m7 0h2m1 0h2m14 0h2m-83 1h2m5 0h3m1 0h10m1 0h4m3 0h11m2 0h4m2 0h4m1 0h3m3 0h2m2 0h2m16 0h2m-83 1h2m5 0h3m2 0h12m3 0h25m2 0h4m1 0h6m-61 1h5m3 0h2m1 0h2m3 0h4m2 0h10m1 0h11m6 0h10m-64 1h1m3 0h8m5 0h6m3 0h17m1 0h3m8 0h2m1 0h5m-63 1h4m1 0h7m1 0h3m1 0h4m1 0h3m2 0h6m1 0h4m1 0h7m9 0h3m1 0h2m6 0h4m-71 1h4m1 0h6m2 0h3m1 0h4m1 0h3m2 0h5m2 0h11m11 0h3m3 0h4m1 0h4m-71 1h2m4 0h5m1 0h2m3 0h3m1 0h3m4 0h4m2 0h8m1 0h5m3 0h2m1 0h2m1 0h3m1 0h6m1 0h2m8 0h2m-263 1h2m181 0h3m3 0h3m1 0h4m3 0h2m2 0h3m4 0h20m3 0h5m2 0h2m1 0h2m2 0h2m11 0h2m-263 1h2m181 0h5m1 0h8m3 0h4m1 0h2m1 0h23m5 0h2m2 0h2m1 0h5m-297 1h2m64 0h2m164 0h11m1 0h4m1 0h7m1 0h23m7 0h10m6 0h2m-311 1h2m4 0h2m7 0h2m7 0h2m5 0h2m15 0h4m20 0h2m21 0h2m141 0h10m1 0h16m1 0h5m2 0h12m6 0h7m8 0h2m1 0h2m-311 1h5m7 0h5m7 0h4m1 0h4m1 0h2m1 0h2m5 0h3m1 0h4m11 0h2m11 0h2m3 0h2m12 0h3m140 0h33m1 0h14m5 0h2m2 0h8m3 0h2m-312 1h3m1 0h5m1 0h12m1 0h2m3 0h4m1 0h4m1 0h6m4 0h3m1 0h3m2 0h2m8 0h2m3 0h3m5 0h2m2 0h3m4 0h2m6 0h3m140 0h48m4 0h2m5 0h8m-309 1h3m1 0h5m1 0h12m1 0h5m2 0h8m1 0h10m1 0h2m1 0h2m2 0h2m3 0h2m4 0h2m2 0h3m5 0h2m2 0h3m1 0h2m1 0h2m7 0h2m140 0h46m1 0h2m3 0h3m4 0h4m2 0h6m2 0h2m-317 1h2m3 0h5m2 0h8m1 0h2m1 0h4m4 0h3m1 0h5m3 0h5m1 0h2m1 0h2m7 0h2m4 0h4m15 0h3m6 0h2m2 0h2m140 0h49m3 0h3m1 0h3m1 0h3m3 0h5m2 0h2m1 0h2m-320 1h10m2 0h3m1 0h13m1 0h2m1 0h3m1 0h5m2 0h2m1 0h2m1 0h6m8 0h2m4 0h2m2 0h2m6 0h2m2 0h3m7 0h4m142 0h48m6 0h6m1 0h2m2 0h3m8 0h2m-320 1h18m1 0h2m1 0h7m1 0h12m3 0h11m8 0h4m6 0h3m5 0h2m2 0h2m8 0h4m142 0h47m1 0h2m2 0h8m5 0h4m-311 1h29m2 0h10m3 0h11m1 0h2m8 0h2m7 0h3m20 0h2m142 0h47m1 0h2m2 0h2m2 0h2m5 0h2m2 0h2m-311 1h26m1 0h10m7 0h5m2 0h7m5 0h2m1 0h3m7 0h2m1 0h2m9 0h5m2 0h3m142 0h48m4 0h4m2 0h2m3 0h2m3 0h2m-312 1h23m4 0h10m8 0h4m2 0h2m1 0h2m7 0h2m2 0h2m1 0h2m5 0h4m5 0h2m2 0h5m2 0h2m143 0h48m1 0h2m1 0h8m8 0h2m8 0h2m-322 1h12m1 0h9m1 0h16m6 0h5m1 0h2m1 0h2m1 0h2m10 0h3m5 0h4m3 0h6m3 0h3m146 0h51m2 0h5m9 0h2m2 0h2m5 0h2m-322 1h35m1 0h4m1 0h3m3 0h4m1 0h4m1 0h2m7 0h2m1 0h2m8 0h2m3 0h2m2 0h2m3 0h4m145 0h50m3 0h3m9 0h4m2 0h2m23 0h2m-340 1h40m1 0h3m3 0h4m1 0h4m1 0h3m6 0h3m4 0h5m6 0h4m1 0h8m145 0h52m2 0h2m2 0h4m3 0h4m27 0h2m-340 1h40m8 0h8m1 0h3m7 0h2m3 0h6m4 0h6m1 0h7m146 0h52m2 0h2m1 0h5m2 0h5m2 0h2m19 0h2m-336 1h40m7 0h9m10 0h2m4 0h3m3 0h2m2 0h2m6 0h4m148 0h52m5 0h4m2 0h3m5 0h2m1 0h2m1 0h2m7 0h4m2 0h2m-336 1h42m5 0h9m10 0h2m4 0h2m4 0h2m10 0h5m147 0h52m7 0h8m7 0h5m7 0h4m4 0h2m-338 1h42m1 0h3m1 0h4m1 0h4m15 0h6m10 0h3m1 0h4m147 0h54m7 0h6m8 0h2m17 0h2m1 0h2m-341 1h40m1 0h5m5 0h3m2 0h2m3 0h2m8 0h2m1 0h3m10 0h3m1 0h2m149 0h55m1 0h2m1 0h2m2 0h6m23 0h2m3 0h2m-341 1h43m1 0h3m2 0h4m1 0h5m2 0h2m8 0h2m2 0h2m4 0h2m6 0h2m151 0h50m1 0h4m1 0h5m2 0h6m1 0h2m20 0h2m-336 1h47m1 0h3m3 0h7m4 0h2m4 0h2m8 0h10m151 0h55m1 0h3m3 0h2m1 0h4m1 0h2m12 0h2m1 0h2m-331 1h41m1 0h4m2 0h2m4 0h3m2 0h2m2 0h4m9 0h2m5 0h6m153 0h55m1 0h2m2 0h5m2 0h2m2 0h2m5 0h2m4 0h2m1 0h2m1 0h2m-333 1h47m4 0h9m2 0h2m11 0h2m5 0h7m152 0h55m1 0h2m2 0h2m1 0h2m6 0h2m3 0h5m1 0h2m6 0h2m2 0h2m-338 1h51m1 0h3m2 0h2m1 0h2m7 0h2m1 0h2m4 0h2m4 0h6m152 0h56m5 0h2m9 0h2m2 0h2m1 0h2m1 0h2m4 0h4m2 0h2m-338 1h46m2 0h3m9 0h2m7 0h2m1 0h2m4 0h2m3 0h5m154 0h60m1 0h2m5 0h2m2 0h3m4 0h3m1 0h2m3 0h2m-332 1h4m2 0h42m3 0h2m4 0h6m3 0h2m13 0h5m156 0h63m1 0h2m2 0h2m3 0h5m1 0h6m2 0h3m-332 1h48m3 0h2m1 0h2m1 0h6m2 0h3m2 0h3m2 0h2m3 0h3m1 0h2m156 0h66m8 0h11m2 0h2m-331 1h48m5 0h3m8 0h3m3 0h3m2 0h3m2 0h2m160 0h68m1 0h4m1 0h11m-327 1h50m3 0h3m8 0h2m6 0h2m2 0h2m2 0h2m1 0h2m157 0h68m1 0h10m1 0h2m-324 1h2m1 0h9m1 0h34m1 0h3m1 0h5m6 0h2m4 0h2m1 0h2m3 0h2m4 0h2m157 0h5m1 0h64m2 0h4m1 0h6m-325 1h48m1 0h8m6 0h2m2 0h4m1 0h2m3 0h2m163 0h70m2 0h11m-325 1h48m1 0h3m3 0h2m10 0h2m3 0h7m1 0h2m160 0h74m1 0h7m-324 1h49m6 0h2m6 0h2m8 0h9m160 0h83m1 0h2m-328 1h49m14 0h2m1 0h2m1 0h2m2 0h2m1 0h6m160 0h83m1 0h2m-328 1h49m1 0h2m8 0h4m2 0h2m1 0h2m1 0h8m1 0h2m159 0h49m1 0h27m2 0h2m-323 1h13m1 0h38m1 0h2m5 0h4m1 0h2m4 0h5m1 0h3m1 0h2m159 0h70m1 0h10m-323 1h14m1 0h4m1 0h30m3 0h2m10 0h3m3 0h2m5 0h2m162 0h72m5 0h4m-323 1h14m1 0h35m2 0h7m7 0h2m10 0h2m162 0h74m-316 1h14m1 0h36m1 0h7m11 0h3m3 0h2m164 0h74m-316 1h56m2 0h2m8 0h5m3 0h2m164 0h72m2 0h4m4 0h2m-326 1h57m1 0h2m8 0h4m170 0h68m1 0h4m1 0h4m2 0h4m-325 1h52m2 0h4m5 0h2m3 0h6m167 0h73m7 0h2m-324 1h12m1 0h7m1 0h32m2 0h4m5 0h2m1 0h9m71 0h2m93 0h64m3 0h3m-312 1h7m1 0h5m1 0h38m4 0h3m8 0h9m71 0h2m93 0h66m-308 1h6m1 0h47m3 0h2m3 0h2m3 0h8m167 0h66m-308 1h6m1 0h47m1 0h3m4 0h7m173 0h66m-308 1h54m1 0h7m2 0h3m175 0h65m2 0h2m-311 1h15m1 0h38m1 0h7m3 0h2m3 0h2m170 0h65m2 0h2m55 0h2m-368 1h9m1 0h6m1 0h43m5 0h2m1 0h4m170 0h65m59 0h2m-367 1h15m1 0h48m3 0h3m171 0h65m-306 1h6m1 0h57m21 0h2m154 0h64m-305 1h64m2 0h2m17 0h2m154 0h65m-307 1h66m1 0h2m54 0h2m117 0h65m3 0h2m-312 1h66m1 0h2m54 0h2m117 0h63m5 0h2m-312 1h23m1 0h42m176 0h65m-307 1h66m176 0h65m4 0h4m-315 1h67m175 0h62m2 0h2m3 0h4m79 0h1m-395 1h67m175 0h62m2 0h2m86 0h1m-395 1h8m1 0h58m175 0h64m-306 1h8m1 0h58m175 0h64m-307 1h66m23 0h2m152 0h62m-305 1h58m2 0h6m23 0h2m152 0h63m15 0h2m-323 1h58m1 0h5m179 0h63m15 0h2m-323 1h62m181 0h64m-307 1h55m2 0h2m184 0h64m1 0h2m4 0h2m1 0h2m65 0h2m-385 1h6m1 0h51m1 0h2m2 0h2m7 0h2m168 0h62m3 0h2m4 0h2m1 0h2m65 0h2m-386 1h7m1 0h11m1 0h38m2 0h2m2 0h2m7 0h2m168 0h62m2 0h2m-309 1h18m2 0h36m187 0h66m14 0h2m-325 1h19m1 0h36m187 0h64m8 0h2m6 0h2m13 0h2m-340 1h19m1 0h34m6 0h2m181 0h65m3 0h2m2 0h3m20 0h2m-340 1h18m1 0h34m7 0h2m181 0h61m1 0h3m3 0h2m3 0h2m-318 1h50m1 0h2m7 0h2m1 0h2m178 0h65m11 0h2m-321 1h50m1 0h4m5 0h2m1 0h2m178 0h65m1 0h2m2 0h2m4 0h2m-321 1h49m2 0h4m188 0h61m5 0h3m1 0h2m5 0h2m-322 1h50m1 0h2m3 0h2m185 0h62m5 0h2m8 0h2m-322 1h51m5 0h2m5 0h2m178 0h62m-305 1h51m12 0h2m1 0h2m175 0h62m4 0h4m8 0h2m-323 1h35m1 0h16m9 0h2m3 0h2m175 0h62m4 0h4m7 0h3m-323 1h34m1 0h12m1 0h5m8 0h3m80 0h2m97 0h62m13 0h4m-322 1h43m8 0h2m9 0h2m1 0h2m77 0h2m97 0h61m11 0h2m1 0h2m-320 1h39m1 0h2m1 0h4m11 0h2m5 0h2m176 0h63m9 0h2m1 0h2m-320 1h35m1 0h3m1 0h7m11 0h4m181 0h59m2 0h2m12 0h2m-320 1h38m1 0h8m9 0h6m181 0h60m1 0h3m-307 1h38m1 0h8m9 0h2m185 0h60m1 0h5m-309 1h35m4 0h7m15 0h2m180 0h60m2 0h4m-309 1h35m5 0h6m2 0h2m11 0h2m180 0h60m1 0h2m-306 1h38m1 0h7m2 0h2m1 0h2m190 0h64m18 0h2m-327 1h38m1 0h6m6 0h2m190 0h64m10 0h2m3 0h2m1 0h2m-327 1h33m1 0h3m2 0h4m200 0h61m13 0h3m2 0h2m-324 1h43m28 0h2m170 0h60m15 0h2m-320 1h39m5 0h2m25 0h2m52 0h2m116 0h61m5 0h2m12 0h2m-325 1h38m5 0h3m79 0h2m116 0h61m5 0h2m12 0h2m-325 1h42m1 0h2m13 0h2m6 0h2m175 0h61m-304 1h42m13 0h2m1 0h2m4 0h4m175 0h61m1 0h2m16 0h2m-325 1h41m7 0h2m5 0h2m7 0h2m177 0h59m1 0h5m3 0h2m10 0h2m-325 1h32m1 0h6m2 0h2m5 0h2m5 0h2m7 0h2m177 0h62m1 0h2m3 0h2m1 0h2m-316 1h39m2 0h2m13 0h2m6 0h2m177 0h61m10 0h2m-316 1h30m1 0h8m2 0h2m2 0h2m4 0h2m3 0h2m8 0h2m175 0h58m6 0h2m3 0h3m7 0h2m-324 1h32m1 0h3m1 0h6m2 0h2m4 0h2m13 0h2m26 0h2m147 0h59m5 0h2m3 0h3m7 0h2m-324 1h32m1 0h9m52 0h2m147 0h60m-303 1h38m20 0h2m183 0h60m-303 1h37m21 0h2m183 0h61m-304 1h36m2 0h2m15 0h2m7 0h2m177 0h61m14 0h2m-320 1h35m3 0h4m2 0h2m9 0h2m7 0h2m177 0h60m10 0h2m3 0h2m-320 1h35m1 0h2m2 0h3m1 0h5m4 0h4m7 0h2m177 0h60m10 0h3m-73 1h59m2 0h2m2 0h2m4 0h2m-73 1h59m2 0h2m2 0h2m47 0h2m-249 90h2m-6 1h2m2 0h4m-8 1h2m3 0h3m203 2h2m-2 1h2m39 2h2m-266 1h2m262 0h2m-266 1h2m29 9h2m-2 1h2m238 2h2m-257 1h2m253 0h2m-257 1h2m205 7h2m-2 1h2m5 0h2m-2 1h2m-23 1h2m15 0h2m25 0h2m-208 1h2m146 0h2m12 0h2m5 0h2m8 0h2m25 0h2m-208 1h2m106 0h2m9 0h2m15 0h2m6 0h2m2 0h2m19 0h2m-63 1h2m9 0h2m14 0h4m5 0h2m4 0h2m13 0h2m15 0h2m-82 1h2m2 0h2m2 0h4m5 0h2m2 0h6m2 0h8m1 0h3m7 0h2m9 0h2m2 0h2m15 0h2m70 0h2m-154 1h3m1 0h3m1 0h6m3 0h2m2 0h6m2 0h5m1 0h2m1 0h3m3 0h4m2 0h2m4 0h2m1 0h2m18 0h2m71 0h2m-154 1h3m2 0h4m2 0h4m1 0h4m2 0h4m2 0h2m2 0h2m1 0h5m1 0h7m2 0h2m4 0h2m21 0h4m3 0h2m-88 1h2m5 0h2m4 0h8m1 0h4m2 0h7m1 0h4m1 0h5m1 0h2m3 0h2m2 0h2m4 0h2m5 0h4m2 0h4m2 0h2m3 0h2m-86 1h2m2 0h2m1 0h8m2 0h5m1 0h2m2 0h6m1 0h8m3 0h4m1 0h2m1 0h4m3 0h3m4 0h4m2 0h4m3 0h2m-82 1h3m1 0h2m1 0h9m3 0h2m2 0h13m1 0h3m1 0h3m3 0h2m1 0h2m1 0h4m4 0h4m2 0h9m2 0h4m5 0h4m15 0h2m-295 1h2m186 0h4m2 0h2m1 0h14m1 0h3m1 0h7m3 0h5m4 0h3m2 0h3m2 0h2m2 0h12m4 0h5m4 0h4m15 0h2m-295 1h2m186 0h4m3 0h20m3 0h4m4 0h3m4 0h5m2 0h7m2 0h13m2 0h2m1 0h3m4 0h4m-91 1h3m3 0h9m2 0h4m1 0h8m1 0h7m1 0h11m2 0h2m2 0h16m1 0h6m1 0h2m3 0h2m1 0h3m-93 1h4m4 0h16m3 0h6m1 0h2m1 0h15m2 0h4m3 0h3m1 0h6m1 0h2m2 0h5m4 0h4m1 0h3m-281 1h2m186 0h5m4 0h16m1 0h27m1 0h5m7 0h2m1 0h2m5 0h4m4 0h4m2 0h3m-287 1h2m2 0h4m186 0h15m1 0h9m1 0h37m3 0h14m4 0h4m6 0h6m-336 1h2m2 0h2m10 0h4m22 0h2m2 0h2m188 0h66m1 0h12m1 0h2m2 0h2m3 0h11m2 0h2m-346 1h2m4 0h2m2 0h2m10 0h4m1 0h2m4 0h2m1 0h5m3 0h2m4 0h2m190 0h59m3 0h4m2 0h9m3 0h2m2 0h2m1 0h9m2 0h2m2 0h2m-347 1h3m2 0h2m5 0h5m1 0h4m3 0h2m1 0h3m3 0h8m2 0h3m4 0h2m2 0h2m186 0h59m2 0h5m1 0h5m1 0h4m6 0h2m2 0h9m-339 1h1m4 0h2m2 0h2m1 0h10m3 0h6m2 0h7m1 0h5m9 0h2m186 0h66m1 0h2m1 0h2m1 0h4m1 0h2m2 0h3m2 0h9m5 0h4m-348 1h1m3 0h3m2 0h4m2 0h5m1 0h2m1 0h7m2 0h11m4 0h2m2 0h2m1 0h2m5 0h2m179 0h66m1 0h2m4 0h4m1 0h8m1 0h6m4 0h2m2 0h4m-348 1h1m1 0h5m2 0h4m3 0h18m2 0h6m2 0h3m1 0h6m8 0h3m2 0h2m174 0h68m2 0h5m3 0h8m1 0h2m1 0h4m3 0h2m-340 1h7m4 0h2m1 0h9m1 0h16m1 0h12m1 0h4m3 0h2m2 0h2m61 0h2m111 0h74m4 0h6m6 0h4m7 0h2m5 0h2m-350 1h6m4 0h2m1 0h9m1 0h7m1 0h8m1 0h2m2 0h3m2 0h3m1 0h4m12 0h2m56 0h4m109 0h74m2 0h2m3 0h2m2 0h3m2 0h4m3 0h6m5 0h2m-353 1h1m1 0h7m2 0h11m1 0h19m2 0h3m1 0h5m3 0h2m14 0h2m58 0h2m109 0h78m3 0h2m1 0h5m2 0h3m2 0h5m7 0h2m-353 1h47m1 0h6m10 0h2m54 0h2m10 0h2m109 0h80m2 0h4m1 0h2m1 0h3m3 0h4m6 0h4m-353 1h11m1 0h34m2 0h2m2 0h2m4 0h2m3 0h4m53 0h2m10 0h2m109 0h81m1 0h4m4 0h2m5 0h4m5 0h2m-351 1h46m1 0h4m5 0h6m1 0h4m7 0h2m47 0h4m116 0h81m1 0h4m3 0h3m5 0h8m1 0h2m-351 1h46m1 0h6m3 0h2m1 0h3m1 0h2m2 0h2m5 0h2m47 0h4m116 0h87m2 0h3m7 0h6m1 0h2m-351 1h46m2 0h2m1 0h2m3 0h5m2 0h3m1 0h2m1 0h2m171 0h87m2 0h3m2 0h4m1 0h2m3 0h3m3 0h2m-355 1h3m2 0h42m1 0h2m1 0h2m1 0h6m2 0h4m4 0h2m1 0h2m3 0h2m33 0h2m11 0h2m115 0h91m3 0h4m1 0h3m2 0h3m3 0h4m11 0h2m-370 1h2m1 0h41m1 0h3m2 0h6m6 0h2m2 0h2m3 0h4m1 0h4m33 0h2m11 0h2m115 0h85m1 0h3m3 0h3m4 0h3m3 0h2m5 0h2m11 0h2m-370 1h45m1 0h9m7 0h2m2 0h2m2 0h3m3 0h2m33 0h4m5 0h2m121 0h85m7 0h5m2 0h3m3 0h9m-357 1h18m1 0h26m1 0h4m1 0h5m6 0h2m1 0h2m3 0h2m39 0h2m7 0h3m120 0h90m5 0h2m7 0h8m1 0h6m-362 1h49m3 0h4m2 0h2m2 0h2m1 0h2m3 0h3m48 0h2m120 0h90m5 0h2m7 0h3m1 0h2m3 0h6m-362 1h12m1 0h38m7 0h2m9 0h4m3 0h2m38 0h2m125 0h92m6 0h2m2 0h5m1 0h2m7 0h2m-362 1h51m3 0h2m1 0h3m3 0h2m4 0h2m5 0h2m2 0h2m23 0h2m9 0h2m2 0h2m121 0h89m1 0h4m4 0h2m2 0h4m3 0h2m1 0h2m2 0h2m-361 1h52m2 0h6m1 0h4m15 0h2m23 0h2m13 0h2m121 0h94m3 0h4m8 0h2m1 0h2m2 0h2m-361 1h49m1 0h2m4 0h2m3 0h3m9 0h2m2 0h2m63 0h2m99 0h93m3 0h5m1 0h2m1 0h9m2 0h2m-361 1h46m1 0h2m5 0h3m4 0h2m6 0h3m1 0h2m1 0h3m27 0h3m33 0h2m99 0h98m4 0h14m5 0h2m-366 1h46m2 0h2m4 0h4m1 0h8m2 0h3m2 0h4m20 0h2m6 0h3m134 0h92m1 0h5m2 0h2m1 0h8m3 0h2m5 0h2m-366 1h52m2 0h4m1 0h2m1 0h5m3 0h2m2 0h4m4 0h2m14 0h2m3 0h2m138 0h99m1 0h4m2 0h6m-355 1h58m5 0h4m4 0h2m1 0h4m4 0h2m10 0h2m7 0h2m8 0h2m128 0h106m1 0h10m4 0h2m-366 1h48m1 0h2m1 0h2m10 0h3m4 0h7m12 0h2m2 0h2m17 0h2m128 0h98m1 0h7m2 0h15m-366 1h8m1 0h8m1 0h31m1 0h4m3 0h2m1 0h2m2 0h3m5 0h2m16 0h2m4 0h2m145 0h98m1 0h6m2 0h9m1 0h5m-365 1h4m2 0h11m1 0h31m1 0h5m2 0h2m1 0h3m1 0h3m4 0h3m1 0h2m16 0h2m1 0h2m145 0h105m2 0h10m2 0h2m3 0h2m-369 1h49m2 0h4m6 0h6m4 0h6m16 0h2m1 0h2m145 0h117m2 0h2m3 0h2m-369 1h49m2 0h2m7 0h7m5 0h3m3 0h2m5 0h2m156 0h108m5 0h2m1 0h2m2 0h4m-367 1h15m1 0h35m6 0h2m1 0h4m1 0h2m1 0h3m1 0h4m1 0h3m5 0h2m156 0h108m8 0h8m-367 1h52m5 0h2m6 0h2m1 0h3m3 0h2m1 0h3m14 0h2m8 0h3m136 0h108m1 0h2m5 0h6m-365 1h52m16 0h5m2 0h2m5 0h2m10 0h2m8 0h3m136 0h107m1 0h3m1 0h2m2 0h2m2 0h4m1 0h2m-370 1h52m11 0h2m3 0h5m1 0h3m1 0h2m2 0h3m1 0h2m1 0h2m7 0h2m143 0h111m1 0h3m5 0h4m1 0h3m-371 1h24m1 0h24m1 0h2m11 0h2m3 0h2m3 0h3m2 0h2m3 0h2m1 0h2m1 0h4m5 0h2m143 0h108m5 0h9m4 0h2m-371 1h49m11 0h2m1 0h2m1 0h3m4 0h6m2 0h2m8 0h6m146 0h109m4 0h7m-363 1h21m2 0h25m1 0h4m1 0h4m1 0h10m2 0h2m1 0h5m2 0h3m7 0h6m146 0h112m1 0h3m-359 1h53m1 0h4m1 0h2m1 0h4m3 0h7m6 0h2m4 0h4m150 0h113m1 0h2m-358 1h8m1 0h43m2 0h2m3 0h2m5 0h2m1 0h2m1 0h2m14 0h4m150 0h112m2 0h5m1 0h3m2 0h2m-369 1h8m3 0h6m2 0h34m3 0h2m1 0h2m5 0h2m4 0h2m168 0h112m2 0h5m1 0h3m2 0h2m7 0h2m5 0h2m-385 1h8m1 0h44m1 0h4m4 0h3m1 0h2m2 0h8m3 0h2m159 0h114m1 0h3m3 0h6m7 0h2m5 0h2m-385 1h57m1 0h3m1 0h3m1 0h2m1 0h9m3 0h2m23 0h2m134 0h42m1 0h71m1 0h2m1 0h8m10 0h2m-380 1h67m1 0h6m2 0h2m28 0h2m134 0h111m1 0h5m1 0h4m14 0h2m-380 1h60m1 0h13m2 0h4m1 0h3m158 0h115m3 0h2m5 0h2m3 0h2m-374 1h76m1 0h7m158 0h87m1 0h26m4 0h2m3 0h4m3 0h2m-374 1h76m1 0h5m160 0h114m1 0h2m6 0h6m2 0h2m-375 1h83m159 0h121m4 0h4m2 0h2m-375 1h17m1 0h68m156 0h115m2 0h4m1 0h2m6 0h2m1 0h2m-377 1h89m153 0h116m5 0h5m4 0h2m1 0h2m-377 1h14m1 0h9m1 0h64m153 0h116m4 0h8m-369 1h88m153 0h117m1 0h7m1 0h2m-369 1h88m153 0h126m-368 1h87m5 0h2m148 0h120m4 0h2m-368 1h85m3 0h6m148 0h124m1 0h2m-369 1h85m3 0h4m1 0h2m147 0h124m1 0h2m3 0h2m-374 1h87m2 0h2m2 0h2m147 0h121m9 0h2m-374 1h16m1 0h9m1 0h60m155 0h121m5 0h2m1 0h2m2 0h2m-377 1h88m154 0h123m3 0h2m1 0h2m2 0h2m-377 1h88m154 0h123m-365 1h87m2 0h3m3 0h2m145 0h121m2 0h2m1 0h4m-372 1h87m2 0h5m1 0h2m145 0h125m1 0h4m4 0h3m-379 1h6m1 0h87m148 0h124m3 0h2m4 0h4m-379 1h1m1 0h4m1 0h83m1 0h2m149 0h122m2 0h2m7 0h2m-377 1h1m1 0h14m4 0h75m147 0h120m4 0h5m-371 1h91m2 0h3m146 0h120m1 0h2m2 0h4m8 0h2m-381 1h5m1 0h20m1 0h63m4 0h2m146 0h123m2 0h3m9 0h2m-381 1h19m1 0h12m2 0h56m1 0h2m149 0h121m4 0h3m-370 1h20m1 0h66m1 0h2m1 0h2m3 0h3m143 0h121m3 0h2m3 0h4m5 0h2m-382 1h88m1 0h4m3 0h3m143 0h122m2 0h3m1 0h5m5 0h2m-382 1h93m149 0h123m2 0h2m1 0h7m-377 1h18m1 0h70m2 0h2m149 0h123m1 0h7m2 0h3m-378 1h91m151 0h123m1 0h7m3 0h2m-378 1h91m25 0h2m124 0h123m1 0h2m1 0h2m-371 1h10m1 0h14m1 0h65m25 0h2m124 0h123m2 0h4m7 0h2m-380 1h88m1 0h2m151 0h122m1 0h6m7 0h2m-380 1h88m1 0h2m151 0h122m1 0h2m1 0h2m3 0h2m-375 1h87m2 0h3m150 0h127m4 0h2m-375 1h93m149 0h123m2 0h2m2 0h2m5 0h2m-380 1h93m149 0h125m4 0h2m5 0h2m-380 1h91m151 0h129m-371 1h91m4 0h2m145 0h124m1 0h4m-371 1h91m3 0h3m145 0h125m-367 1h89m5 0h2m146 0h125m3 0h2m6 0h2m-380 1h93m20 0h2m127 0h127m1 0h2m1 0h2m3 0h2m-380 1h93m20 0h2m127 0h127m4 0h2m-375 1h88m3 0h2m149 0h126m5 0h4m-377 1h88m154 0h125m6 0h5m-378 1h88m1 0h2m1 0h2m148 0h80m1 0h39m1 0h3m1 0h3m1 0h2m1 0h6m8 0h2m-390 1h86m1 0h4m1 0h2m148 0h131m5 0h2m8 0h2m-390 1h66m1 0h22m1 0h2m150 0h126m1 0h2m-371 1h88m2 0h2m150 0h125m2 0h3m-372 1h88m154 0h125m1 0h4m1 0h4m-377 1h89m4 0h2m147 0h130m1 0h6m3 0h2m-384 1h95m147 0h93m1 0h34m5 0h6m1 0h2m-384 1h85m1 0h9m147 0h128m9 0h2m-382 1h25m1 0h60m2 0h8m12 0h2m133 0h132m-375 1h89m1 0h5m13 0h2m133 0h132m1 0h2m-378 1h89m3 0h3m148 0h129m3 0h3m-378 1h88m4 0h4m147 0h129m3 0h3m-378 1h88m6 0h2m147 0h130m3 0h2m1 0h2m-381 1h87m156 0h130m6 0h2m-381 1h87m156 0h128m6 0h2m-136 1h127m7 0h2m1 0h2m-139 1h128m9 0h2m-305 86h2m1 0h2m32 0h2m-41 1h4m1 0h2m32 0h2m13 0h2m-60 1h2m2 0h2m52 0h2m159 0h2m-221 1h2m217 0h2m-167 1h2m120 0h2m-124 1h2m120 0h2m39 4h2m-219 1h2m14 0h2m199 0h2m-219 1h2m4 0h2m8 0h2m163 0h2m-186 1h2m7 0h4m163 0h1m7 0h2m-186 1h2m9 0h2m163 0h1m27 0h2m-2 1h2m-205 1h2m-2 1h2m181 1h2m8 0h2m-12 1h2m8 0h2m-186 1h2m-2 1h2m212 0h2m-226 1h2m208 0h2m12 0h2m-226 1h2m208 0h2m-203 1h2m205 0h2m-209 1h2m166 0h2m37 0h2m-41 1h2m37 1h2m-39 1h2m35 0h2m-265 1h2m224 0h2m-228 1h2m243 0h2m-265 1h2m15 0h2m3 0h2m239 0h2m6 0h2m-273 1h2m15 0h2m3 0h2m235 0h2m10 0h2m-14 1h2m-201 1h2m188 0h2m-219 1h2m25 0h2m188 0h2m-219 1h2m-34 1h3m33 0h2m202 0h1m22 0h4m100 0h2m-369 1h3m33 0h2m202 0h1m16 0h2m4 0h4m2 0h4m3 0h2m17 0h2m70 0h2m-129 1h1m2 0h2m1 0h2m5 0h6m5 0h3m2 0h5m2 0h3m12 0h2m2 0h2m14 0h2m-73 1h1m2 0h2m1 0h2m2 0h8m1 0h2m3 0h3m5 0h2m2 0h3m3 0h2m1 0h2m4 0h5m2 0h2m11 0h2m-69 1h2m4 0h6m3 0h2m1 0h7m5 0h2m1 0h3m2 0h2m1 0h2m5 0h4m2 0h2m-60 1h1m3 0h3m1 0h8m1 0h4m1 0h14m1 0h3m11 0h2m1 0h2m5 0h2m-297 1h2m25 0h2m205 0h3m2 0h2m1 0h8m1 0h17m4 0h2m11 0h5m5 0h2m-297 1h2m25 0h2m205 0h7m1 0h7m1 0h16m1 0h3m1 0h2m9 0h6m19 0h2m1 0h2m-78 1h36m1 0h2m9 0h4m21 0h2m1 0h2m1 0h4m-269 1h2m184 0h36m1 0h5m6 0h2m1 0h4m8 0h2m11 0h2m1 0h5m3 0h2m-275 1h2m184 0h42m3 0h2m1 0h2m1 0h4m8 0h4m9 0h2m4 0h2m3 0h2m-89 1h35m1 0h8m1 0h2m2 0h2m4 0h2m2 0h2m4 0h2m9 0h2m-78 1h46m3 0h2m2 0h4m2 0h2m1 0h2m8 0h2m2 0h2m15 0h2m-298 1h2m201 0h43m1 0h2m7 0h2m5 0h5m4 0h2m1 0h2m2 0h2m15 0h2m-328 1h2m19 0h2m7 0h2m201 0h39m2 0h6m5 0h2m3 0h2m1 0h2m1 0h2m4 0h2m1 0h2m10 0h2m-319 1h2m19 0h2m3 0h2m205 0h44m1 0h2m4 0h5m1 0h3m3 0h2m1 0h2m4 0h2m5 0h2m3 0h2m-326 1h2m5 0h2m12 0h2m4 0h2m2 0h4m205 0h42m2 0h4m3 0h2m1 0h2m1 0h3m3 0h2m1 0h2m5 0h4m2 0h3m8 0h2m-336 1h6m3 0h4m12 0h2m4 0h7m206 0h48m2 0h4m3 0h6m10 0h4m3 0h2m7 0h4m-337 1h8m1 0h2m1 0h6m9 0h2m2 0h12m201 0h48m2 0h4m5 0h4m4 0h4m7 0h2m2 0h2m5 0h4m3 0h2m3 0h2m6 0h2m-354 1h7m3 0h7m1 0h3m1 0h2m2 0h3m1 0h12m55 0h2m144 0h48m3 0h4m4 0h2m6 0h8m2 0h3m2 0h2m7 0h4m1 0h2m3 0h2m6 0h2m-354 1h7m3 0h11m1 0h2m3 0h12m58 0h2m144 0h48m1 0h6m4 0h2m10 0h5m1 0h3m2 0h2m9 0h2m-338 1h2m1 0h7m1 0h28m204 0h54m8 0h2m5 0h2m1 0h4m2 0h2m2 0h2m8 0h2m2 0h2m-339 1h8m1 0h6m1 0h11m1 0h9m59 0h2m143 0h50m1 0h2m7 0h4m5 0h2m3 0h4m14 0h2m2 0h2m3 0h2m-344 1h5m1 0h15m2 0h17m56 0h2m143 0h52m1 0h4m3 0h2m1 0h2m9 0h4m23 0h2m-347 1h3m1 0h2m3 0h7m1 0h2m6 0h20m4 0h2m193 0h52m1 0h4m3 0h2m1 0h2m12 0h2m12 0h2m8 0h4m-349 1h3m1 0h3m2 0h10m2 0h3m1 0h14m3 0h3m4 0h2m193 0h51m4 0h2m2 0h4m10 0h2m2 0h2m2 0h4m2 0h2m2 0h2m8 0h6m3 0h2m-356 1h2m1 0h4m3 0h16m1 0h13m2 0h3m50 0h2m147 0h51m4 0h2m2 0h4m2 0h2m6 0h2m2 0h2m2 0h4m2 0h2m16 0h2m2 0h3m-355 1h6m3 0h13m1 0h2m3 0h11m3 0h2m50 0h2m147 0h52m1 0h3m9 0h2m8 0h2m10 0h2m5 0h2m13 0h2m-355 1h7m3 0h9m3 0h5m3 0h12m2 0h2m42 0h2m154 0h56m2 0h4m10 0h2m1 0h2m8 0h4m1 0h2m2 0h3m1 0h4m1 0h2m-349 1h5m3 0h28m1 0h5m2 0h3m2 0h2m37 0h2m3 0h2m1 0h2m146 0h56m2 0h5m7 0h4m1 0h2m8 0h3m2 0h2m1 0h4m1 0h4m1 0h2m1 0h2m-352 1h6m1 0h3m1 0h24m1 0h6m3 0h2m2 0h3m41 0h2m1 0h2m146 0h56m3 0h4m1 0h3m2 0h3m3 0h4m5 0h4m4 0h4m2 0h2m6 0h3m-353 1h3m1 0h38m8 0h2m38 0h2m152 0h56m2 0h3m3 0h3m2 0h3m4 0h3m5 0h2m1 0h9m4 0h2m5 0h2m4 0h2m-359 1h8m1 0h27m1 0h3m1 0h2m2 0h2m43 0h4m150 0h57m1 0h2m8 0h4m4 0h2m7 0h8m1 0h2m1 0h2m1 0h2m5 0h2m4 0h2m33 0h2m-394 1h1m1 0h6m1 0h28m1 0h9m6 0h2m31 0h2m4 0h2m150 0h61m4 0h9m5 0h2m4 0h2m10 0h2m8 0h2m25 0h2m12 0h2m-394 1h2m2 0h8m1 0h24m3 0h7m6 0h2m31 0h3m155 0h61m4 0h3m1 0h5m2 0h2m1 0h2m4 0h2m2 0h2m5 0h2m36 0h2m-380 1h12m1 0h27m1 0h4m5 0h2m33 0h4m155 0h55m1 0h4m9 0h3m2 0h4m1 0h7m3 0h2m5 0h2m6 0h3m-351 1h43m6 0h3m33 0h2m157 0h55m1 0h6m7 0h8m3 0h7m6 0h2m9 0h3m-351 1h43m2 0h3m1 0h4m1 0h2m29 0h4m155 0h55m5 0h2m4 0h16m3 0h3m5 0h2m8 0h2m-349 1h42m3 0h3m1 0h4m1 0h4m1 0h2m22 0h2m1 0h3m155 0h55m11 0h17m3 0h2m3 0h6m1 0h2m3 0h2m45 0h2m-396 1h42m3 0h2m4 0h4m1 0h2m1 0h2m19 0h2m1 0h2m159 0h56m4 0h2m1 0h2m1 0h2m1 0h16m6 0h2m2 0h2m1 0h2m2 0h2m46 0h2m-396 1h44m6 0h5m6 0h2m15 0h4m1 0h2m159 0h56m4 0h2m1 0h2m4 0h16m8 0h2m7 0h2m4 0h2m-354 1h44m5 0h5m7 0h4m9 0h2m2 0h3m163 0h54m9 0h4m1 0h17m1 0h2m1 0h3m1 0h2m13 0h2m-354 1h46m1 0h5m2 0h2m1 0h2m4 0h3m8 0h2m2 0h3m5 0h2m156 0h54m11 0h2m1 0h24m-336 1h46m1 0h2m5 0h2m1 0h2m3 0h4m8 0h2m2 0h3m5 0h2m156 0h56m8 0h2m3 0h21m3 0h2m-339 1h44m2 0h2m1 0h2m3 0h2m1 0h4m1 0h4m8 0h3m167 0h56m1 0h2m5 0h2m3 0h22m1 0h3m1 0h2m-342 1h42m4 0h2m1 0h3m2 0h7m13 0h5m165 0h59m9 0h26m2 0h2m1 0h3m-346 1h4m1 0h35m4 0h3m2 0h5m1 0h4m7 0h4m1 0h8m165 0h57m5 0h2m3 0h28m4 0h5m-348 1h42m1 0h6m3 0h2m1 0h4m7 0h12m1 0h2m163 0h55m6 0h34m7 0h2m24 0h2m-374 1h45m1 0h3m3 0h3m1 0h4m2 0h3m5 0h2m1 0h3m3 0h2m163 0h56m1 0h12m1 0h23m2 0h2m1 0h2m28 0h2m-374 1h50m2 0h3m1 0h5m1 0h3m5 0h3m1 0h2m168 0h65m1 0h27m2 0h2m1 0h4m1 0h6m-354 1h47m1 0h3m1 0h5m3 0h2m6 0h2m1 0h3m1 0h3m166 0h98m3 0h2m1 0h6m18 0h2m-374 1h54m1 0h2m7 0h2m1 0h3m1 0h4m1 0h2m166 0h97m3 0h2m2 0h3m21 0h2m-374 1h54m1 0h2m7 0h5m1 0h6m168 0h96m3 0h3m2 0h3m-351 1h37m2 0h16m4 0h2m3 0h3m3 0h6m168 0h97m2 0h3m-346 1h32m1 0h25m1 0h3m2 0h2m1 0h5m1 0h7m164 0h102m2 0h2m-350 1h59m1 0h2m5 0h4m4 0h5m164 0h99m1 0h6m3 0h2m-355 1h59m2 0h2m1 0h2m1 0h7m1 0h4m165 0h99m1 0h7m2 0h2m-355 1h24m1 0h34m1 0h6m1 0h7m1 0h4m165 0h99m1 0h3m1 0h3m-351 1h4m1 0h60m1 0h4m1 0h2m2 0h2m167 0h101m6 0h2m-353 1h15m1 0h48m2 0h4m1 0h6m167 0h97m1 0h3m6 0h2m2 0h2m-357 1h64m2 0h4m1 0h5m168 0h97m1 0h2m11 0h2m-357 1h64m1 0h2m2 0h2m9 0h2m162 0h100m2 0h2m-348 1h67m2 0h2m2 0h2m5 0h2m162 0h101m1 0h2m3 0h2m4 0h2m-359 1h41m1 0h25m5 0h3m169 0h101m3 0h2m1 0h2m4 0h2m-359 1h74m4 0h4m162 0h100m4 0h2m-350 1h74m4 0h4m162 0h12m1 0h87m4 0h2m-350 1h18m2 0h53m5 0h6m160 0h100m4 0h2m-350 1h73m1 0h2m2 0h6m160 0h99m4 0h2m-349 1h24m1 0h47m2 0h2m2 0h6m160 0h99m4 0h4m-351 1h73m2 0h2m1 0h2m2 0h2m160 0h100m5 0h2m-351 1h25m2 0h50m14 0h2m151 0h101m-345 1h71m2 0h2m16 0h2m151 0h103m-347 1h34m1 0h39m170 0h103m-347 1h15m1 0h24m1 0h33m2 0h2m166 0h103m-347 1h62m1 0h10m1 0h6m164 0h103m-347 1h76m2 0h2m164 0h101m-345 1h21m2 0h51m7 0h2m161 0h103m3 0h2m-352 1h33m1 0h41m6 0h2m161 0h108m-352 1h75m1 0h2m166 0h107m-351 1h75m1 0h4m164 0h104m-348 1h75m2 0h3m1 0h2m161 0h101m1 0h2m-348 1h24m1 0h54m2 0h2m16 0h2m143 0h103m-347 1h7m1 0h43m1 0h27m2 0h2m16 0h2m143 0h103m1 0h2m-350 1h35m1 0h26m1 0h13m168 0h103m1 0h2m-350 1h18m1 0h8m1 0h16m1 0h17m2 0h13m2 0h2m163 0h103m-347 1h44m1 0h32m2 0h2m163 0h103m-347 1h6m1 0h70m1 0h2m1 0h3m160 0h103m-347 1h80m1 0h3m160 0h103m-347 1h83m161 0h101m-345 1h43m1 0h39m161 0h104m-348 1h79m165 0h104m-348 1h16m1 0h61m166 0h103m-347 1h14m1 0h29m1 0h34m5 0h2m158 0h103m1 0h4m-352 1h80m4 0h2m158 0h102m2 0h4m-352 1h50m1 0h29m1 0h2m161 0h102m-346 1h79m2 0h2m161 0h102m-346 1h43m1 0h7m1 0h27m9 0h2m154 0h104m-348 1h79m1 0h2m1 0h2m3 0h2m154 0h104m-348 1h79m1 0h2m1 0h2m159 0h105m-349 1h11m1 0h68m164 0h105m3 0h2m-354 1h26m2 0h53m2 0h2m159 0h50m1 0h54m3 0h2m-354 1h20m1 0h25m1 0h34m2 0h2m159 0h105m-349 1h57m1 0h23m2 0h2m159 0h103m-347 1h82m162 0h103m1 0h2m-350 1h28m1 0h2m1 0h50m162 0h103m1 0h2m-350 1h81m1 0h2m160 0h102m-346 1h45m1 0h9m1 0h28m160 0h104m-348 1h82m162 0h107m-351 1h66m1 0h13m164 0h103m1 0h3m-351 1h80m1 0h2m161 0h103m1 0h2m-350 1h80m1 0h2m161 0h106m-350 1h80m164 0h104m-348 1h81m163 0h104m-348 1h1m1 0h37m1 0h41m163 0h104m-348 1h81m163 0h103m-347 1h81m163 0h102m-346 1h60m1 0h21m162 0h102m-346 1h1m1 0h13m1 0h32m2 0h6m1 0h25m1 0h2m159 0h103m4 0h2m46 0h1m-400 1h80m3 0h2m159 0h103m2 0h4m45 0h2" stroke="#000" stroke-width="1" fill="none" shape-rendering="crispEdges"/>
<g transform="translate(0 166.65) skewX(-0.4584) translate(0 -166.65)"><rect x="107.29" y="89.8" width="150.83" height="153.7" fill="none" stroke="#000" stroke-width="1.5"/><path d="M152.61 89.8V243.5M107.29 143.4H258.11" stroke="#000" stroke-width="1.4" fill="none"/><path d="M119.8 243.5v3.5M107.3 230.2h-3.5M126.3 243.5v3.5M107.3 223.6h-3.5M131.0 243.5v3.5M107.3 218.9h-3.5M134.5 243.5v3.5M107.3 215.3h-3.5M137.5 243.5v3.5M107.3 212.3h-3.5M139.9 243.5v3.5M107.3 209.8h-3.5M142.1 243.5v3.5M107.3 207.6h-3.5M144.0 243.5v3.5M107.3 205.7h-3.5M156.8 243.5v3.5M107.3 192.7h-3.5M163.3 243.5v3.5M107.3 186.1h-3.5M167.9 243.5v3.5M107.3 181.4h-3.5M171.5 243.5v3.5M107.3 177.8h-3.5M174.4 243.5v3.5M107.3 174.8h-3.5M176.9 243.5v3.5M107.3 172.3h-3.5M179.1 243.5v3.5M107.3 170.1h-3.5M181.0 243.5v3.5M107.3 168.2h-3.5M193.8 243.5v3.5M107.3 155.2h-3.5M200.3 243.5v3.5M107.3 148.6h-3.5M204.9 243.5v3.5M107.3 143.9h-3.5M208.5 243.5v3.5M107.3 140.3h-3.5M211.4 243.5v3.5M107.3 137.3h-3.5M213.9 243.5v3.5M107.3 134.8h-3.5M216.0 243.5v3.5M107.3 132.6h-3.5M217.9 243.5v3.5M107.3 130.7h-3.5M230.8 243.5v3.5M107.3 117.7h-3.5M237.3 243.5v3.5M107.3 111.1h-3.5M241.9 243.5v3.5M107.3 106.4h-3.5M245.5 243.5v3.5M107.3 102.8h-3.5M248.4 243.5v3.5M107.3 99.8h-3.5M250.9 243.5v3.5M107.3 97.3h-3.5M253.0 243.5v3.5M107.3 95.1h-3.5M254.9 243.5v3.5M107.3 93.2h-3.5M108.7 243.5v6M107.3 241.5h-6.5M145.7 243.5v6M107.3 204.0h-6.5M182.7 243.5v6M107.3 166.5h-6.5M219.6 243.5v6M107.3 129.0h-6.5M256.6 243.5v6M107.3 91.5h-6.5" stroke="#000" stroke-width="1.1" fill="none"/><text x="99.1" y="267.8" font-size="14">10</text><text transform="translate(113.6 261.8) scale(1.2 1)" font-size="13">0</text><g transform="translate(94.1 250.0) rotate(-90)"><text font-size="14">10</text><text transform="translate(14.4 -7) scale(1.2 1)" font-size="13">0</text></g><text x="136.1" y="267.8" font-size="14">10</text><text transform="translate(150.6 261.8) scale(1.2 1)" font-size="13">1</text><g transform="translate(94.1 212.5) rotate(-90)"><text font-size="14">10</text><text transform="translate(14.4 -7) scale(1.2 1)" font-size="13">1</text></g><text x="173.1" y="267.8" font-size="14">10</text><text transform="translate(187.6 261.8) scale(1.2 1)" font-size="13">2</text><g transform="translate(94.1 175.0) rotate(-90)"><text font-size="14">10</text><text transform="translate(14.4 -7) scale(1.2 1)" font-size="13">2</text></g><text x="210.0" y="267.8" font-size="14">10</text><text transform="translate(224.5 261.8) scale(1.2 1)" font-size="13">3</text><g transform="translate(94.1 137.5) rotate(-90)"><text font-size="14">10</text><text transform="translate(14.4 -7) scale(1.2 1)" font-size="13">3</text></g><text x="247.0" y="267.8" font-size="14">10</text><text transform="translate(261.5 261.8) scale(1.2 1)" font-size="13">4</text><g transform="translate(94.1 100.0) rotate(-90)"><text font-size="14">10</text><text transform="translate(14.4 -7) scale(1.2 1)" font-size="13">4</text></g></g><text transform="translate(47.45 99.30) scale(0.93 1)" class="lt">A</text><g transform="translate(0 407.90) skewX(-0.4584) translate(0 -407.90)"><rect x="106.07" y="329.0" width="155.46" height="157.8" fill="none" stroke="#000" stroke-width="1.5"/><path d="M151.20 329.0V486.8M106.07 382.8H261.53" stroke="#000" stroke-width="1.4" fill="none"/><path d="M119.0 486.8v3.5M106.1 473.2h-3.5M125.7 486.8v3.5M106.1 466.4h-3.5M130.4 486.8v3.5M106.1 461.6h-3.5M134.1 486.8v3.5M106.1 457.9h-3.5M137.1 486.8v3.5M106.1 454.8h-3.5M139.7 486.8v3.5M106.1 452.2h-3.5M141.9 486.8v3.5M106.1 450.0h-3.5M143.9 486.8v3.5M106.1 448.0h-3.5M157.1 486.8v3.5M106.1 434.7h-3.5M163.8 486.8v3.5M106.1 427.9h-3.5M168.6 486.8v3.5M106.1 423.1h-3.5M172.3 486.8v3.5M106.1 419.3h-3.5M175.3 486.8v3.5M106.1 416.3h-3.5M177.8 486.8v3.5M106.1 413.7h-3.5M180.1 486.8v3.5M106.1 411.5h-3.5M182.0 486.8v3.5M106.1 409.5h-3.5M195.2 486.8v3.5M106.1 396.2h-3.5M201.9 486.8v3.5M106.1 389.4h-3.5M206.7 486.8v3.5M106.1 384.6h-3.5M210.4 486.8v3.5M106.1 380.8h-3.5M213.4 486.8v3.5M106.1 377.8h-3.5M216.0 486.8v3.5M106.1 375.2h-3.5M218.2 486.8v3.5M106.1 373.0h-3.5M220.1 486.8v3.5M106.1 371.0h-3.5M233.4 486.8v3.5M106.1 357.6h-3.5M240.1 486.8v3.5M106.1 350.8h-3.5M244.9 486.8v3.5M106.1 346.0h-3.5M248.5 486.8v3.5M106.1 342.3h-3.5M251.6 486.8v3.5M106.1 339.2h-3.5M254.1 486.8v3.5M106.1 336.7h-3.5M256.3 486.8v3.5M106.1 334.4h-3.5M258.3 486.8v3.5M106.1 332.5h-3.5M107.5 486.8v6M106.1 484.8h-6.5M145.6 486.8v6M106.1 446.3h-6.5M183.8 486.8v6M106.1 407.8h-6.5M221.9 486.8v6M106.1 369.2h-6.5M260.0 486.8v6M106.1 330.7h-6.5" stroke="#000" stroke-width="1.1" fill="none"/><text x="97.9" y="511.1" font-size="14">10</text><text transform="translate(112.4 505.1) scale(1.2 1)" font-size="13">0</text><g transform="translate(92.9 493.3) rotate(-90)"><text font-size="14">10</text><text transform="translate(14.4 -7) scale(1.2 1)" font-size="13">0</text></g><text x="136.0" y="511.1" font-size="14">10</text><text transform="translate(150.5 505.1) scale(1.2 1)" font-size="13">1</text><g transform="translate(92.9 454.8) rotate(-90)"><text font-size="14">10</text><text transform="translate(14.4 -7) scale(1.2 1)" font-size="13">1</text></g><text x="174.2" y="511.1" font-size="14">10</text><text transform="translate(188.7 505.1) scale(1.2 1)" font-size="13">2</text><g transform="translate(92.9 416.2) rotate(-90)"><text font-size="14">10</text><text transform="translate(14.4 -7) scale(1.2 1)" font-size="13">2</text></g><text x="212.3" y="511.1" font-size="14">10</text><text transform="translate(226.8 505.1) scale(1.2 1)" font-size="13">3</text><g transform="translate(92.9 377.7) rotate(-90)"><text font-size="14">10</text><text transform="translate(14.4 -7) scale(1.2 1)" font-size="13">3</text></g><text x="250.4" y="511.1" font-size="14">10</text><text transform="translate(264.9 505.1) scale(1.2 1)" font-size="13">4</text><g transform="translate(92.9 339.2) rotate(-90)"><text font-size="14">10</text><text transform="translate(14.4 -7) scale(1.2 1)" font-size="13">4</text></g></g><text transform="translate(50.40 340.25) scale(0.93 1)" class="lt">B</text><g transform="translate(0 652.60) skewX(-0.4584) translate(0 -652.60)"><rect x="105.37" y="573.8" width="160.26" height="157.6" fill="none" stroke="#000" stroke-width="1.5"/><path d="M152.00 573.8V731.4M105.37 627.5H265.63" stroke="#000" stroke-width="1.4" fill="none"/><path d="M118.6 731.4v3.5M105.4 717.8h-3.5M125.5 731.4v3.5M105.4 711.0h-3.5M130.5 731.4v3.5M105.4 706.2h-3.5M134.3 731.4v3.5M105.4 702.5h-3.5M137.4 731.4v3.5M105.4 699.5h-3.5M140.0 731.4v3.5M105.4 696.9h-3.5M142.3 731.4v3.5M105.4 694.7h-3.5M144.3 731.4v3.5M105.4 692.7h-3.5M158.0 731.4v3.5M105.4 679.3h-3.5M164.9 731.4v3.5M105.4 672.6h-3.5M169.8 731.4v3.5M105.4 667.8h-3.5M173.6 731.4v3.5M105.4 664.0h-3.5M176.7 731.4v3.5M105.4 661.0h-3.5M179.4 731.4v3.5M105.4 658.4h-3.5M181.6 731.4v3.5M105.4 656.2h-3.5M183.6 731.4v3.5M105.4 654.2h-3.5M197.3 731.4v3.5M105.4 640.9h-3.5M204.2 731.4v3.5M105.4 634.1h-3.5M209.1 731.4v3.5M105.4 629.3h-3.5M212.9 731.4v3.5M105.4 625.6h-3.5M216.1 731.4v3.5M105.4 622.5h-3.5M218.7 731.4v3.5M105.4 619.9h-3.5M221.0 731.4v3.5M105.4 617.7h-3.5M223.0 731.4v3.5M105.4 615.7h-3.5M236.6 731.4v3.5M105.4 602.4h-3.5M243.6 731.4v3.5M105.4 595.6h-3.5M248.5 731.4v3.5M105.4 590.8h-3.5M252.3 731.4v3.5M105.4 587.1h-3.5M255.4 731.4v3.5M105.4 584.0h-3.5M258.0 731.4v3.5M105.4 581.5h-3.5M260.3 731.4v3.5M105.4 579.2h-3.5M262.3 731.4v3.5M105.4 577.3h-3.5M106.8 731.4v6M105.4 729.4h-6.5M146.1 731.4v6M105.4 690.9h-6.5M185.4 731.4v6M105.4 652.5h-6.5M224.8 731.4v6M105.4 614.0h-6.5M264.1 731.4v6M105.4 575.5h-6.5" stroke="#000" stroke-width="1.1" fill="none"/><text x="97.2" y="755.7" font-size="14">10</text><text transform="translate(111.7 749.7) scale(1.2 1)" font-size="13">0</text><g transform="translate(92.2 737.9) rotate(-90)"><text font-size="14">10</text><text transform="translate(14.4 -7) scale(1.2 1)" font-size="13">0</text></g><text x="136.5" y="755.7" font-size="14">10</text><text transform="translate(151.0 749.7) scale(1.2 1)" font-size="13">1</text><g transform="translate(92.2 699.4) rotate(-90)"><text font-size="14">10</text><text transform="translate(14.4 -7) scale(1.2 1)" font-size="13">1</text></g><text x="175.8" y="755.7" font-size="14">10</text><text transform="translate(190.3 749.7) scale(1.2 1)" font-size="13">2</text><g transform="translate(92.2 661.0) rotate(-90)"><text font-size="14">10</text><text transform="translate(14.4 -7) scale(1.2 1)" font-size="13">2</text></g><text x="215.2" y="755.7" font-size="14">10</text><text transform="translate(229.7 749.7) scale(1.2 1)" font-size="13">3</text><g transform="translate(92.2 622.5) rotate(-90)"><text font-size="14">10</text><text transform="translate(14.4 -7) scale(1.2 1)" font-size="13">3</text></g><text x="254.5" y="755.7" font-size="14">10</text><text transform="translate(269.0 749.7) scale(1.2 1)" font-size="13">4</text><g transform="translate(92.2 584.0) rotate(-90)"><text font-size="14">10</text><text transform="translate(14.4 -7) scale(1.2 1)" font-size="13">4</text></g></g><text transform="translate(49.60 585.80) scale(0.93 1)" class="lt">C</text><g transform="translate(0 894.35) skewX(-0.4584) translate(0 -894.35)"><rect x="103.87" y="816.0" width="150.75" height="156.7" fill="none" stroke="#000" stroke-width="1.5"/><path d="M149.30 816.0V972.7M103.87 869.4H254.63" stroke="#000" stroke-width="1.4" fill="none"/><path d="M116.4 972.7v3.5M103.9 959.2h-3.5M122.9 972.7v3.5M103.9 952.5h-3.5M127.5 972.7v3.5M103.9 947.7h-3.5M131.1 972.7v3.5M103.9 944.0h-3.5M134.0 972.7v3.5M103.9 940.9h-3.5M136.5 972.7v3.5M103.9 938.4h-3.5M138.7 972.7v3.5M103.9 936.2h-3.5M140.5 972.7v3.5M103.9 934.2h-3.5M153.4 972.7v3.5M103.9 920.9h-3.5M159.9 972.7v3.5M103.9 914.2h-3.5M164.5 972.7v3.5M103.9 909.4h-3.5M168.1 972.7v3.5M103.9 905.7h-3.5M171.0 972.7v3.5M103.9 902.7h-3.5M173.5 972.7v3.5M103.9 900.1h-3.5M175.6 972.7v3.5M103.9 897.9h-3.5M177.5 972.7v3.5M103.9 896.0h-3.5M190.3 972.7v3.5M103.9 882.7h-3.5M196.8 972.7v3.5M103.9 876.0h-3.5M201.5 972.7v3.5M103.9 871.2h-3.5M205.0 972.7v3.5M103.9 867.5h-3.5M208.0 972.7v3.5M103.9 864.4h-3.5M210.4 972.7v3.5M103.9 861.9h-3.5M212.6 972.7v3.5M103.9 859.7h-3.5M214.5 972.7v3.5M103.9 857.7h-3.5M227.3 972.7v3.5M103.9 844.4h-3.5M233.8 972.7v3.5M103.9 837.7h-3.5M238.4 972.7v3.5M103.9 832.9h-3.5M242.0 972.7v3.5M103.9 829.2h-3.5M244.9 972.7v3.5M103.9 826.2h-3.5M247.4 972.7v3.5M103.9 823.6h-3.5M249.5 972.7v3.5M103.9 821.4h-3.5M251.4 972.7v3.5M103.9 819.5h-3.5M105.3 972.7v6M103.9 970.7h-6.5M142.2 972.7v6M103.9 932.5h-6.5M179.2 972.7v6M103.9 894.2h-6.5M216.2 972.7v6M103.9 856.0h-6.5M253.1 972.7v6M103.9 817.7h-6.5" stroke="#000" stroke-width="1.1" fill="none"/><text x="95.7" y="997.0" font-size="14">10</text><text transform="translate(110.2 991.0) scale(1.2 1)" font-size="13">0</text><g transform="translate(90.7 979.2) rotate(-90)"><text font-size="14">10</text><text transform="translate(14.4 -7) scale(1.2 1)" font-size="13">0</text></g><text x="132.6" y="997.0" font-size="14">10</text><text transform="translate(147.1 991.0) scale(1.2 1)" font-size="13">1</text><g transform="translate(90.7 941.0) rotate(-90)"><text font-size="14">10</text><text transform="translate(14.4 -7) scale(1.2 1)" font-size="13">1</text></g><text x="169.6" y="997.0" font-size="14">10</text><text transform="translate(184.1 991.0) scale(1.2 1)" font-size="13">2</text><g transform="translate(90.7 902.7) rotate(-90)"><text font-size="14">10</text><text transform="translate(14.4 -7) scale(1.2 1)" font-size="13">2</text></g><text x="206.6" y="997.0" font-size="14">10</text><text transform="translate(221.1 991.0) scale(1.2 1)" font-size="13">3</text><g transform="translate(90.7 864.5) rotate(-90)"><text font-size="14">10</text><text transform="translate(14.4 -7) scale(1.2 1)" font-size="13">3</text></g><text x="243.5" y="997.0" font-size="14">10</text><text transform="translate(258.0 991.0) scale(1.2 1)" font-size="13">4</text><g transform="translate(90.7 826.2) rotate(-90)"><text font-size="14">10</text><text transform="translate(14.4 -7) scale(1.2 1)" font-size="13">4</text></g></g><text transform="translate(49.85 824.25) scale(0.93 1)" class="lt">D</text><g transform="translate(0 168.50) skewX(-0.4584) translate(0 -168.50)"><rect x="348.97" y="90.0" width="156.26" height="157.0" fill="none" stroke="#000" stroke-width="1.5"/><path d="M399.16 90.0V247.0M348.97 126.5H505.23" stroke="#000" stroke-width="1.4" fill="none"/><path d="M361.9 247.0v3.5M349.0 233.5h-3.5M368.7 247.0v3.5M349.0 226.7h-3.5M373.5 247.0v3.5M349.0 221.9h-3.5M377.2 247.0v3.5M349.0 218.2h-3.5M380.2 247.0v3.5M349.0 215.2h-3.5M382.8 247.0v3.5M349.0 212.6h-3.5M385.0 247.0v3.5M349.0 210.4h-3.5M387.0 247.0v3.5M349.0 208.4h-3.5M400.3 247.0v3.5M349.0 195.1h-3.5M407.0 247.0v3.5M349.0 188.4h-3.5M411.8 247.0v3.5M349.0 183.6h-3.5M415.5 247.0v3.5M349.0 179.9h-3.5M418.5 247.0v3.5M349.0 176.9h-3.5M421.1 247.0v3.5M349.0 174.3h-3.5M423.3 247.0v3.5M349.0 172.1h-3.5M425.3 247.0v3.5M349.0 170.1h-3.5M438.6 247.0v3.5M349.0 156.8h-3.5M445.3 247.0v3.5M349.0 150.1h-3.5M450.1 247.0v3.5M349.0 145.3h-3.5M453.8 247.0v3.5M349.0 141.6h-3.5M456.9 247.0v3.5M349.0 138.5h-3.5M459.5 247.0v3.5M349.0 136.0h-3.5M461.7 247.0v3.5M349.0 133.7h-3.5M463.6 247.0v3.5M349.0 131.8h-3.5M476.9 247.0v3.5M349.0 118.5h-3.5M483.7 247.0v3.5M349.0 111.7h-3.5M488.5 247.0v3.5M349.0 107.0h-3.5M492.2 247.0v3.5M349.0 103.2h-3.5M495.2 247.0v3.5M349.0 100.2h-3.5M497.8 247.0v3.5M349.0 97.6h-3.5M500.0 247.0v3.5M349.0 95.4h-3.5M502.0 247.0v3.5M349.0 93.5h-3.5M350.4 247.0v6M349.0 245.0h-6.5M388.7 247.0v6M349.0 206.7h-6.5M427.1 247.0v6M349.0 168.3h-6.5M465.4 247.0v6M349.0 130.0h-6.5M503.7 247.0v6M349.0 91.7h-6.5" stroke="#000" stroke-width="1.1" fill="none"/><text x="340.8" y="271.3" font-size="14">10</text><text transform="translate(355.3 265.3) scale(1.2 1)" font-size="13">0</text><g transform="translate(335.8 253.5) rotate(-90)"><text font-size="14">10</text><text transform="translate(14.4 -7) scale(1.2 1)" font-size="13">0</text></g><text x="379.1" y="271.3" font-size="14">10</text><text transform="translate(393.6 265.3) scale(1.2 1)" font-size="13">1</text><g transform="translate(335.8 215.2) rotate(-90)"><text font-size="14">10</text><text transform="translate(14.4 -7) scale(1.2 1)" font-size="13">1</text></g><text x="417.4" y="271.3" font-size="14">10</text><text transform="translate(431.9 265.3) scale(1.2 1)" font-size="13">2</text><g transform="translate(335.8 176.8) rotate(-90)"><text font-size="14">10</text><text transform="translate(14.4 -7) scale(1.2 1)" font-size="13">2</text></g><text x="455.8" y="271.3" font-size="14">10</text><text transform="translate(470.3 265.3) scale(1.2 1)" font-size="13">3</text><g transform="translate(335.8 138.5) rotate(-90)"><text font-size="14">10</text><text transform="translate(14.4 -7) scale(1.2 1)" font-size="13">3</text></g><text x="494.1" y="271.3" font-size="14">10</text><text transform="translate(508.6 265.3) scale(1.2 1)" font-size="13">4</text><g transform="translate(335.8 100.2) rotate(-90)"><text font-size="14">10</text><text transform="translate(14.4 -7) scale(1.2 1)" font-size="13">4</text></g></g><text transform="translate(291.35 100.25) scale(0.93 1)" class="lt">E</text><g transform="translate(0 410.10) skewX(-0.4584) translate(0 -410.10)"><rect x="348.47" y="331.4" width="153.36" height="157.4" fill="none" stroke="#000" stroke-width="1.5"/><path d="M397.26 331.4V488.8M348.47 367.0H501.83" stroke="#000" stroke-width="1.4" fill="none"/><path d="M361.2 488.8v3.5M348.5 475.2h-3.5M367.8 488.8v3.5M348.5 468.5h-3.5M372.5 488.8v3.5M348.5 463.7h-3.5M376.2 488.8v3.5M348.5 459.9h-3.5M379.1 488.8v3.5M348.5 456.9h-3.5M381.7 488.8v3.5M348.5 454.3h-3.5M383.8 488.8v3.5M348.5 452.1h-3.5M385.8 488.8v3.5M348.5 450.1h-3.5M398.8 488.8v3.5M348.5 436.8h-3.5M405.4 488.8v3.5M348.5 430.0h-3.5M410.1 488.8v3.5M348.5 425.2h-3.5M413.8 488.8v3.5M348.5 421.5h-3.5M416.8 488.8v3.5M348.5 418.5h-3.5M419.3 488.8v3.5M348.5 415.9h-3.5M421.5 488.8v3.5M348.5 413.7h-3.5M423.4 488.8v3.5M348.5 411.7h-3.5M436.4 488.8v3.5M348.5 398.4h-3.5M443.0 488.8v3.5M348.5 391.6h-3.5M447.7 488.8v3.5M348.5 386.8h-3.5M451.4 488.8v3.5M348.5 383.1h-3.5M454.4 488.8v3.5M348.5 380.0h-3.5M456.9 488.8v3.5M348.5 377.5h-3.5M459.1 488.8v3.5M348.5 375.2h-3.5M461.0 488.8v3.5M348.5 373.3h-3.5M474.0 488.8v3.5M348.5 360.0h-3.5M480.7 488.8v3.5M348.5 353.2h-3.5M485.4 488.8v3.5M348.5 348.4h-3.5M489.0 488.8v3.5M348.5 344.7h-3.5M492.0 488.8v3.5M348.5 341.6h-3.5M494.5 488.8v3.5M348.5 339.1h-3.5M496.7 488.8v3.5M348.5 336.8h-3.5M498.6 488.8v3.5M348.5 334.9h-3.5M349.9 488.8v6M348.5 486.8h-6.5M387.5 488.8v6M348.5 448.4h-6.5M425.1 488.8v6M348.5 409.9h-6.5M462.7 488.8v6M348.5 371.5h-6.5M500.3 488.8v6M348.5 333.1h-6.5" stroke="#000" stroke-width="1.1" fill="none"/><text x="340.3" y="513.1" font-size="14">10</text><text transform="translate(354.8 507.1) scale(1.2 1)" font-size="13">0</text><g transform="translate(335.3 495.3) rotate(-90)"><text font-size="14">10</text><text transform="translate(14.4 -7) scale(1.2 1)" font-size="13">0</text></g><text x="377.9" y="513.1" font-size="14">10</text><text transform="translate(392.4 507.1) scale(1.2 1)" font-size="13">1</text><g transform="translate(335.3 456.9) rotate(-90)"><text font-size="14">10</text><text transform="translate(14.4 -7) scale(1.2 1)" font-size="13">1</text></g><text x="415.5" y="513.1" font-size="14">10</text><text transform="translate(430.0 507.1) scale(1.2 1)" font-size="13">2</text><g transform="translate(335.3 418.4) rotate(-90)"><text font-size="14">10</text><text transform="translate(14.4 -7) scale(1.2 1)" font-size="13">2</text></g><text x="453.1" y="513.1" font-size="14">10</text><text transform="translate(467.6 507.1) scale(1.2 1)" font-size="13">3</text><g transform="translate(335.3 380.0) rotate(-90)"><text font-size="14">10</text><text transform="translate(14.4 -7) scale(1.2 1)" font-size="13">3</text></g><text x="490.7" y="513.1" font-size="14">10</text><text transform="translate(505.2 507.1) scale(1.2 1)" font-size="13">4</text><g transform="translate(335.3 341.6) rotate(-90)"><text font-size="14">10</text><text transform="translate(14.4 -7) scale(1.2 1)" font-size="13">4</text></g></g><text transform="translate(293.65 341.85) scale(0.93 1)" class="lt">F</text><g transform="translate(0 655.75) skewX(-0.4584) translate(0 -655.75)"><rect x="347.88" y="578.0" width="154.74" height="155.5" fill="none" stroke="#000" stroke-width="1.5"/><path d="M397.76 578.0V733.5M347.88 612.8H502.62" stroke="#000" stroke-width="1.4" fill="none"/><path d="M360.7 733.5v3.5M347.9 720.1h-3.5M367.4 733.5v3.5M347.9 713.4h-3.5M372.1 733.5v3.5M347.9 708.7h-3.5M375.8 733.5v3.5M347.9 705.0h-3.5M378.8 733.5v3.5M347.9 702.0h-3.5M381.4 733.5v3.5M347.9 699.4h-3.5M383.6 733.5v3.5M347.9 697.2h-3.5M385.5 733.5v3.5M347.9 695.3h-3.5M398.7 733.5v3.5M347.9 682.1h-3.5M405.4 733.5v3.5M347.9 675.4h-3.5M410.1 733.5v3.5M347.9 670.7h-3.5M413.8 733.5v3.5M347.9 667.0h-3.5M416.8 733.5v3.5M347.9 664.0h-3.5M419.3 733.5v3.5M347.9 661.5h-3.5M421.5 733.5v3.5M347.9 659.3h-3.5M423.5 733.5v3.5M347.9 657.3h-3.5M436.6 733.5v3.5M347.9 644.2h-3.5M443.3 733.5v3.5M347.9 637.5h-3.5M448.1 733.5v3.5M347.9 632.8h-3.5M451.7 733.5v3.5M347.9 629.1h-3.5M454.7 733.5v3.5M347.9 626.1h-3.5M457.3 733.5v3.5M347.9 623.5h-3.5M459.5 733.5v3.5M347.9 621.3h-3.5M461.4 733.5v3.5M347.9 619.4h-3.5M474.6 733.5v3.5M347.9 606.2h-3.5M481.3 733.5v3.5M347.9 599.5h-3.5M486.0 733.5v3.5M347.9 594.8h-3.5M489.7 733.5v3.5M347.9 591.1h-3.5M492.7 733.5v3.5M347.9 588.1h-3.5M495.2 733.5v3.5M347.9 585.6h-3.5M497.4 733.5v3.5M347.9 583.4h-3.5M499.4 733.5v3.5M347.9 581.4h-3.5M349.3 733.5v6M347.9 731.5h-6.5M387.2 733.5v6M347.9 693.5h-6.5M425.2 733.5v6M347.9 655.6h-6.5M463.2 733.5v6M347.9 617.7h-6.5M501.1 733.5v6M347.9 579.7h-6.5" stroke="#000" stroke-width="1.1" fill="none"/><text x="339.7" y="757.8" font-size="14">10</text><text transform="translate(354.2 751.8) scale(1.2 1)" font-size="13">0</text><g transform="translate(334.7 740.0) rotate(-90)"><text font-size="14">10</text><text transform="translate(14.4 -7) scale(1.2 1)" font-size="13">0</text></g><text x="377.6" y="757.8" font-size="14">10</text><text transform="translate(392.1 751.8) scale(1.2 1)" font-size="13">1</text><g transform="translate(334.7 702.0) rotate(-90)"><text font-size="14">10</text><text transform="translate(14.4 -7) scale(1.2 1)" font-size="13">1</text></g><text x="415.6" y="757.8" font-size="14">10</text><text transform="translate(430.1 751.8) scale(1.2 1)" font-size="13">2</text><g transform="translate(334.7 664.1) rotate(-90)"><text font-size="14">10</text><text transform="translate(14.4 -7) scale(1.2 1)" font-size="13">2</text></g><text x="453.6" y="757.8" font-size="14">10</text><text transform="translate(468.1 751.8) scale(1.2 1)" font-size="13">3</text><g transform="translate(334.7 626.2) rotate(-90)"><text font-size="14">10</text><text transform="translate(14.4 -7) scale(1.2 1)" font-size="13">3</text></g><text x="491.5" y="757.8" font-size="14">10</text><text transform="translate(506.0 751.8) scale(1.2 1)" font-size="13">4</text><g transform="translate(334.7 588.2) rotate(-90)"><text font-size="14">10</text><text transform="translate(14.4 -7) scale(1.2 1)" font-size="13">4</text></g></g><text transform="translate(290.05 585.80) scale(0.93 1)" class="lt">G</text><g transform="translate(0 894.80) skewX(-0.4584) translate(0 -894.80)"><rect x="347.87" y="816.4" width="156.75" height="156.8" fill="none" stroke="#000" stroke-width="1.5"/><path d="M398.26 816.4V973.2M347.87 852.6H504.63" stroke="#000" stroke-width="1.4" fill="none"/><path d="M360.9 973.2v3.5M347.9 959.7h-3.5M367.6 973.2v3.5M347.9 952.9h-3.5M372.4 973.2v3.5M347.9 948.2h-3.5M376.2 973.2v3.5M347.9 944.4h-3.5M379.2 973.2v3.5M347.9 941.4h-3.5M381.8 973.2v3.5M347.9 938.9h-3.5M384.0 973.2v3.5M347.9 936.6h-3.5M386.0 973.2v3.5M347.9 934.7h-3.5M399.3 973.2v3.5M347.9 921.4h-3.5M406.1 973.2v3.5M347.9 914.7h-3.5M410.9 973.2v3.5M347.9 909.9h-3.5M414.6 973.2v3.5M347.9 906.2h-3.5M417.7 973.2v3.5M347.9 903.1h-3.5M420.2 973.2v3.5M347.9 900.6h-3.5M422.5 973.2v3.5M347.9 898.4h-3.5M424.4 973.2v3.5M347.9 896.4h-3.5M437.8 973.2v3.5M347.9 883.1h-3.5M444.6 973.2v3.5M347.9 876.4h-3.5M449.4 973.2v3.5M347.9 871.6h-3.5M453.1 973.2v3.5M347.9 867.9h-3.5M456.1 973.2v3.5M347.9 864.9h-3.5M458.7 973.2v3.5M347.9 862.3h-3.5M460.9 973.2v3.5M347.9 860.1h-3.5M462.9 973.2v3.5M347.9 858.1h-3.5M476.2 973.2v3.5M347.9 844.9h-3.5M483.0 973.2v3.5M347.9 838.1h-3.5M487.8 973.2v3.5M347.9 833.3h-3.5M491.5 973.2v3.5M347.9 829.6h-3.5M494.6 973.2v3.5M347.9 826.6h-3.5M497.2 973.2v3.5M347.9 824.0h-3.5M499.4 973.2v3.5M347.9 821.8h-3.5M501.4 973.2v3.5M347.9 819.9h-3.5M349.3 973.2v6M347.9 971.2h-6.5M387.7 973.2v6M347.9 932.9h-6.5M426.2 973.2v6M347.9 894.7h-6.5M464.7 973.2v6M347.9 856.4h-6.5M503.1 973.2v6M347.9 818.1h-6.5" stroke="#000" stroke-width="1.1" fill="none"/><text x="339.7" y="997.5" font-size="14">10</text><text transform="translate(354.2 991.5) scale(1.2 1)" font-size="13">0</text><g transform="translate(334.7 979.7) rotate(-90)"><text font-size="14">10</text><text transform="translate(14.4 -7) scale(1.2 1)" font-size="13">0</text></g><text x="378.1" y="997.5" font-size="14">10</text><text transform="translate(392.6 991.5) scale(1.2 1)" font-size="13">1</text><g transform="translate(334.7 941.4) rotate(-90)"><text font-size="14">10</text><text transform="translate(14.4 -7) scale(1.2 1)" font-size="13">1</text></g><text x="416.6" y="997.5" font-size="14">10</text><text transform="translate(431.1 991.5) scale(1.2 1)" font-size="13">2</text><g transform="translate(334.7 903.2) rotate(-90)"><text font-size="14">10</text><text transform="translate(14.4 -7) scale(1.2 1)" font-size="13">2</text></g><text x="455.1" y="997.5" font-size="14">10</text><text transform="translate(469.6 991.5) scale(1.2 1)" font-size="13">3</text><g transform="translate(334.7 864.9) rotate(-90)"><text font-size="14">10</text><text transform="translate(14.4 -7) scale(1.2 1)" font-size="13">3</text></g><text x="493.5" y="997.5" font-size="14">10</text><text transform="translate(508.0 991.5) scale(1.2 1)" font-size="13">4</text><g transform="translate(334.7 826.6) rotate(-90)"><text font-size="14">10</text><text transform="translate(14.4 -7) scale(1.2 1)" font-size="13">4</text></g></g><text transform="translate(290.05 825.00) scale(0.93 1)" class="lt">H</text>
<text x="104.5" y="21.4" font-size="28" font-weight="bold">Mastocytosis</text><text x="399.8" y="23" font-size="27.5" font-weight="bold">HES</text><path d="M15.7 142L12 816.5" stroke="#222" stroke-width="1.4"/><path d="M9.8 142.5L15.6 130.4L21.9 142.5z" fill="#000"/><text transform="translate(19.2 910.8) rotate(-90)" font-size="22.5" font-weight="bold">CD117</text><text x="113.6" y="309.2" font-size="21.6" font-weight="bold">Isotype control</text><path d="M265.9 300.9L494.2 301.7" stroke="#000" stroke-width="1.6"/><path d="M493.2 295.59999999999997L505.2 301.7L493.2 307.8z" fill="#000"/><text transform="translate(158 554.6) scale(1 1.12)" font-size="22" font-weight="bold">CD25</text><path d="M264.8 545.9L493.1 546.7" stroke="#000" stroke-width="1.6"/><path d="M492.1 540.6L504.1 546.7L492.1 552.8000000000001z" fill="#000"/><text transform="translate(156.7 795.0) scale(1 1.07)" font-size="22" font-weight="bold">CD35</text><path d="M264.1 788.5L492.2 789.6" stroke="#000" stroke-width="1.6"/><path d="M491.2 783.6L502.9 789.6L491.2 795.6z" fill="#000"/><text transform="translate(160.7 1027.6) scale(1 1.06)" font-size="22" font-weight="bold">CD2</text><path d="M262.8 1018.2L491.2 1019.6" stroke="#000" stroke-width="1.6"/><path d="M490.2 1013.7L501.8 1019.6L490.2 1025.5z" fill="#000"/>
</svg>
</body></html>
